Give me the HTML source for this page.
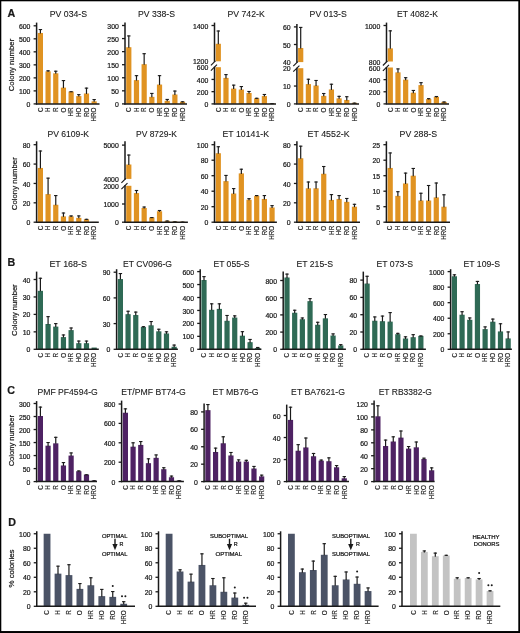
<!DOCTYPE html>
<html><head><meta charset="utf-8"><title>Figure</title>
<style>
html,body{margin:0;padding:0;background:#fff;}
body{width:520px;height:633px;overflow:hidden;position:relative;}
svg{position:absolute;left:0;top:0;display:block;filter:blur(0.3px);}
text{font-family:"Liberation Sans", sans-serif;fill:#1a1a1a;stroke:#1a1a1a;stroke-width:0.22px;}
</style></head>
<body>
<svg width="520" height="633" viewBox="0 0 520 633">
<rect x="0" y="0" width="520" height="633" fill="#ffffff"/>
<rect x="37.80" y="32.96" width="5.20" height="70.94" fill="#e09322"/>
<line x1="40.40" y1="29.05" x2="40.40" y2="33.46" stroke="#1a1a1a" stroke-width="1.2"/>
<line x1="38.70" y1="29.55" x2="42.10" y2="29.55" stroke="#1a1a1a" stroke-width="1.1"/>
<rect x="45.48" y="71.36" width="5.20" height="32.54" fill="#e09322"/>
<line x1="48.08" y1="70.32" x2="48.08" y2="71.86" stroke="#1a1a1a" stroke-width="1.2"/>
<line x1="46.38" y1="70.82" x2="49.78" y2="70.82" stroke="#1a1a1a" stroke-width="1.1"/>
<rect x="53.16" y="73.31" width="5.20" height="30.59" fill="#e09322"/>
<line x1="55.76" y1="70.71" x2="55.76" y2="73.81" stroke="#1a1a1a" stroke-width="1.2"/>
<line x1="54.06" y1="71.21" x2="57.46" y2="71.21" stroke="#1a1a1a" stroke-width="1.1"/>
<rect x="60.84" y="87.63" width="5.20" height="16.27" fill="#e09322"/>
<line x1="63.44" y1="80.08" x2="63.44" y2="88.13" stroke="#1a1a1a" stroke-width="1.2"/>
<line x1="61.74" y1="80.58" x2="65.14" y2="80.58" stroke="#1a1a1a" stroke-width="1.1"/>
<rect x="68.52" y="91.53" width="5.20" height="12.37" fill="#e09322"/>
<line x1="71.12" y1="91.27" x2="71.12" y2="92.03" stroke="#1a1a1a" stroke-width="1.2"/>
<line x1="69.42" y1="91.77" x2="72.82" y2="91.77" stroke="#1a1a1a" stroke-width="1.1"/>
<rect x="76.20" y="96.09" width="5.20" height="7.81" fill="#e09322"/>
<line x1="78.80" y1="94.14" x2="78.80" y2="96.59" stroke="#1a1a1a" stroke-width="1.2"/>
<line x1="77.10" y1="94.64" x2="80.50" y2="94.64" stroke="#1a1a1a" stroke-width="1.1"/>
<rect x="83.88" y="93.49" width="5.20" height="10.41" fill="#e09322"/>
<line x1="86.48" y1="87.63" x2="86.48" y2="93.99" stroke="#1a1a1a" stroke-width="1.2"/>
<line x1="84.78" y1="88.13" x2="88.18" y2="88.13" stroke="#1a1a1a" stroke-width="1.1"/>
<rect x="91.56" y="101.30" width="5.20" height="2.60" fill="#e09322"/>
<line x1="94.16" y1="99.08" x2="94.16" y2="101.80" stroke="#1a1a1a" stroke-width="1.2"/>
<line x1="92.46" y1="99.58" x2="95.86" y2="99.58" stroke="#1a1a1a" stroke-width="1.1"/>
<line x1="36.60" y1="22.60" x2="36.60" y2="104.50" stroke="#1a1a1a" stroke-width="1.5"/>
<line x1="35.90" y1="103.90" x2="99.50" y2="103.90" stroke="#1a1a1a" stroke-width="1.5"/>
<line x1="33.60" y1="103.90" x2="36.60" y2="103.90" stroke="#1a1a1a" stroke-width="1.3"/>
<text x="30.40" y="106.98" font-size="6.9" text-anchor="end" font-weight="normal" >0</text>
<line x1="33.60" y1="90.88" x2="36.60" y2="90.88" stroke="#1a1a1a" stroke-width="1.3"/>
<text x="30.40" y="93.97" font-size="6.9" text-anchor="end" font-weight="normal" >100</text>
<line x1="33.60" y1="77.87" x2="36.60" y2="77.87" stroke="#1a1a1a" stroke-width="1.3"/>
<text x="30.40" y="80.95" font-size="6.9" text-anchor="end" font-weight="normal" >200</text>
<line x1="33.60" y1="64.85" x2="36.60" y2="64.85" stroke="#1a1a1a" stroke-width="1.3"/>
<text x="30.40" y="67.93" font-size="6.9" text-anchor="end" font-weight="normal" >300</text>
<line x1="33.60" y1="51.83" x2="36.60" y2="51.83" stroke="#1a1a1a" stroke-width="1.3"/>
<text x="30.40" y="54.92" font-size="6.9" text-anchor="end" font-weight="normal" >400</text>
<line x1="33.60" y1="38.82" x2="36.60" y2="38.82" stroke="#1a1a1a" stroke-width="1.3"/>
<text x="30.40" y="41.90" font-size="6.9" text-anchor="end" font-weight="normal" >500</text>
<line x1="33.60" y1="25.80" x2="36.60" y2="25.80" stroke="#1a1a1a" stroke-width="1.3"/>
<text x="30.40" y="28.88" font-size="6.9" text-anchor="end" font-weight="normal" >600</text>
<text x="0" y="0" font-size="6.3" text-anchor="end" style="stroke-width:0.16px" transform="translate(42.67,107.50) rotate(-90)">C</text>
<text x="0" y="0" font-size="6.3" text-anchor="end" style="stroke-width:0.16px" transform="translate(50.35,107.50) rotate(-90)">H</text>
<text x="0" y="0" font-size="6.3" text-anchor="end" style="stroke-width:0.16px" transform="translate(58.03,107.50) rotate(-90)">R</text>
<text x="0" y="0" font-size="6.3" text-anchor="end" style="stroke-width:0.16px" transform="translate(65.71,107.50) rotate(-90)">O</text>
<text x="0" y="0" font-size="6.3" text-anchor="end" style="stroke-width:0.16px" transform="translate(73.39,107.50) rotate(-90)">HR</text>
<text x="0" y="0" font-size="6.3" text-anchor="end" style="stroke-width:0.16px" transform="translate(81.07,107.50) rotate(-90)">HO</text>
<text x="0" y="0" font-size="6.3" text-anchor="end" style="stroke-width:0.16px" transform="translate(88.75,107.50) rotate(-90)">RO</text>
<text x="0" y="0" font-size="6.3" text-anchor="end" style="stroke-width:0.16px" transform="translate(96.43,107.50) rotate(-90)">HRO</text>
<text x="49.80" y="17.10" font-size="8.6" text-anchor="start" font-weight="normal" textLength="37.30" lengthAdjust="spacingAndGlyphs"  style="stroke-width:0.1px">PV 034-S</text>
<rect x="126.20" y="47.19" width="5.20" height="56.71" fill="#e09322"/>
<line x1="128.80" y1="35.43" x2="128.80" y2="47.69" stroke="#1a1a1a" stroke-width="1.2"/>
<line x1="127.10" y1="35.93" x2="130.50" y2="35.93" stroke="#1a1a1a" stroke-width="1.1"/>
<rect x="133.88" y="80.12" width="5.20" height="23.78" fill="#e09322"/>
<line x1="136.48" y1="75.15" x2="136.48" y2="80.62" stroke="#1a1a1a" stroke-width="1.2"/>
<line x1="134.78" y1="75.65" x2="138.18" y2="75.65" stroke="#1a1a1a" stroke-width="1.1"/>
<rect x="141.56" y="64.18" width="5.20" height="39.72" fill="#e09322"/>
<line x1="144.16" y1="53.20" x2="144.16" y2="64.68" stroke="#1a1a1a" stroke-width="1.2"/>
<line x1="142.46" y1="53.70" x2="145.86" y2="53.70" stroke="#1a1a1a" stroke-width="1.1"/>
<rect x="149.24" y="96.84" width="5.20" height="7.06" fill="#e09322"/>
<line x1="151.84" y1="92.92" x2="151.84" y2="97.34" stroke="#1a1a1a" stroke-width="1.2"/>
<line x1="150.14" y1="93.42" x2="153.54" y2="93.42" stroke="#1a1a1a" stroke-width="1.1"/>
<rect x="156.92" y="84.56" width="5.20" height="19.34" fill="#e09322"/>
<line x1="159.52" y1="75.15" x2="159.52" y2="85.06" stroke="#1a1a1a" stroke-width="1.2"/>
<line x1="157.82" y1="75.65" x2="161.22" y2="75.65" stroke="#1a1a1a" stroke-width="1.1"/>
<rect x="164.60" y="100.76" width="5.20" height="3.14" fill="#e09322"/>
<line x1="167.20" y1="98.93" x2="167.20" y2="101.26" stroke="#1a1a1a" stroke-width="1.2"/>
<line x1="165.50" y1="99.43" x2="168.90" y2="99.43" stroke="#1a1a1a" stroke-width="1.1"/>
<rect x="172.28" y="94.49" width="5.20" height="9.41" fill="#e09322"/>
<line x1="174.88" y1="90.57" x2="174.88" y2="94.99" stroke="#1a1a1a" stroke-width="1.2"/>
<line x1="173.18" y1="91.07" x2="176.58" y2="91.07" stroke="#1a1a1a" stroke-width="1.1"/>
<rect x="179.96" y="101.81" width="5.20" height="2.09" fill="#e09322"/>
<line x1="182.56" y1="101.29" x2="182.56" y2="102.31" stroke="#1a1a1a" stroke-width="1.2"/>
<line x1="180.86" y1="101.79" x2="184.26" y2="101.79" stroke="#1a1a1a" stroke-width="1.1"/>
<line x1="125.00" y1="22.60" x2="125.00" y2="104.50" stroke="#1a1a1a" stroke-width="1.5"/>
<line x1="124.30" y1="103.90" x2="187.00" y2="103.90" stroke="#1a1a1a" stroke-width="1.5"/>
<line x1="122.00" y1="103.90" x2="125.00" y2="103.90" stroke="#1a1a1a" stroke-width="1.3"/>
<text x="118.80" y="106.98" font-size="6.9" text-anchor="end" font-weight="normal" >0</text>
<line x1="122.00" y1="90.83" x2="125.00" y2="90.83" stroke="#1a1a1a" stroke-width="1.3"/>
<text x="118.80" y="93.92" font-size="6.9" text-anchor="end" font-weight="normal" >50</text>
<line x1="122.00" y1="77.77" x2="125.00" y2="77.77" stroke="#1a1a1a" stroke-width="1.3"/>
<text x="118.80" y="80.85" font-size="6.9" text-anchor="end" font-weight="normal" >100</text>
<line x1="122.00" y1="64.70" x2="125.00" y2="64.70" stroke="#1a1a1a" stroke-width="1.3"/>
<text x="118.80" y="67.78" font-size="6.9" text-anchor="end" font-weight="normal" >150</text>
<line x1="122.00" y1="51.63" x2="125.00" y2="51.63" stroke="#1a1a1a" stroke-width="1.3"/>
<text x="118.80" y="54.72" font-size="6.9" text-anchor="end" font-weight="normal" >200</text>
<line x1="122.00" y1="38.57" x2="125.00" y2="38.57" stroke="#1a1a1a" stroke-width="1.3"/>
<text x="118.80" y="41.65" font-size="6.9" text-anchor="end" font-weight="normal" >250</text>
<line x1="122.00" y1="25.50" x2="125.00" y2="25.50" stroke="#1a1a1a" stroke-width="1.3"/>
<text x="118.80" y="28.58" font-size="6.9" text-anchor="end" font-weight="normal" >300</text>
<text x="0" y="0" font-size="6.3" text-anchor="end" style="stroke-width:0.16px" transform="translate(131.07,107.50) rotate(-90)">C</text>
<text x="0" y="0" font-size="6.3" text-anchor="end" style="stroke-width:0.16px" transform="translate(138.75,107.50) rotate(-90)">H</text>
<text x="0" y="0" font-size="6.3" text-anchor="end" style="stroke-width:0.16px" transform="translate(146.43,107.50) rotate(-90)">R</text>
<text x="0" y="0" font-size="6.3" text-anchor="end" style="stroke-width:0.16px" transform="translate(154.11,107.50) rotate(-90)">O</text>
<text x="0" y="0" font-size="6.3" text-anchor="end" style="stroke-width:0.16px" transform="translate(161.79,107.50) rotate(-90)">HR</text>
<text x="0" y="0" font-size="6.3" text-anchor="end" style="stroke-width:0.16px" transform="translate(169.47,107.50) rotate(-90)">HO</text>
<text x="0" y="0" font-size="6.3" text-anchor="end" style="stroke-width:0.16px" transform="translate(177.15,107.50) rotate(-90)">RO</text>
<text x="0" y="0" font-size="6.3" text-anchor="end" style="stroke-width:0.16px" transform="translate(184.83,107.50) rotate(-90)">HRO</text>
<text x="138.00" y="17.10" font-size="8.6" text-anchor="start" font-weight="normal" textLength="37.00" lengthAdjust="spacingAndGlyphs"  style="stroke-width:0.1px">PV 338-S</text>
<rect x="215.70" y="67.20" width="5.20" height="36.70" fill="#e09322"/>
<rect x="215.70" y="43.76" width="5.20" height="17.54" fill="#e09322"/>
<line x1="218.30" y1="30.51" x2="218.30" y2="44.26" stroke="#1a1a1a" stroke-width="1.2"/>
<line x1="216.60" y1="31.01" x2="220.00" y2="31.01" stroke="#1a1a1a" stroke-width="1.1"/>
<rect x="223.38" y="77.90" width="5.20" height="26.00" fill="#e09322"/>
<line x1="225.98" y1="74.11" x2="225.98" y2="78.40" stroke="#1a1a1a" stroke-width="1.2"/>
<line x1="224.28" y1="74.61" x2="227.68" y2="74.61" stroke="#1a1a1a" stroke-width="1.1"/>
<rect x="231.06" y="88.61" width="5.20" height="15.29" fill="#e09322"/>
<line x1="233.66" y1="84.63" x2="233.66" y2="89.11" stroke="#1a1a1a" stroke-width="1.2"/>
<line x1="231.96" y1="85.13" x2="235.36" y2="85.13" stroke="#1a1a1a" stroke-width="1.1"/>
<rect x="238.74" y="89.53" width="5.20" height="14.37" fill="#e09322"/>
<line x1="241.34" y1="86.04" x2="241.34" y2="90.03" stroke="#1a1a1a" stroke-width="1.2"/>
<line x1="239.64" y1="86.54" x2="243.04" y2="86.54" stroke="#1a1a1a" stroke-width="1.1"/>
<rect x="246.42" y="92.95" width="5.20" height="10.95" fill="#e09322"/>
<line x1="249.02" y1="90.99" x2="249.02" y2="93.45" stroke="#1a1a1a" stroke-width="1.2"/>
<line x1="247.32" y1="91.49" x2="250.72" y2="91.49" stroke="#1a1a1a" stroke-width="1.1"/>
<rect x="254.10" y="98.27" width="5.20" height="5.63" fill="#e09322"/>
<line x1="256.70" y1="97.78" x2="256.70" y2="98.77" stroke="#1a1a1a" stroke-width="1.2"/>
<line x1="255.00" y1="98.28" x2="258.40" y2="98.28" stroke="#1a1a1a" stroke-width="1.1"/>
<rect x="261.78" y="96.07" width="5.20" height="7.83" fill="#e09322"/>
<line x1="264.38" y1="93.99" x2="264.38" y2="96.57" stroke="#1a1a1a" stroke-width="1.2"/>
<line x1="262.68" y1="94.49" x2="266.08" y2="94.49" stroke="#1a1a1a" stroke-width="1.1"/>
<rect x="269.46" y="103.29" width="5.20" height="0.61" fill="#e09322"/>
<line x1="272.06" y1="103.17" x2="272.06" y2="103.79" stroke="#1a1a1a" stroke-width="1.2"/>
<line x1="270.36" y1="103.67" x2="273.76" y2="103.67" stroke="#1a1a1a" stroke-width="1.1"/>
<line x1="214.50" y1="22.60" x2="214.50" y2="61.80" stroke="#1a1a1a" stroke-width="1.5"/>
<line x1="214.50" y1="66.70" x2="214.50" y2="103.90" stroke="#1a1a1a" stroke-width="1.5"/>
<line x1="210.90" y1="65.30" x2="215.40" y2="60.80" stroke="#1a1a1a" stroke-width="1.15"/>
<line x1="210.90" y1="70.60" x2="217.00" y2="64.60" stroke="#1a1a1a" stroke-width="1.15"/>
<line x1="213.80" y1="103.90" x2="276.00" y2="103.90" stroke="#1a1a1a" stroke-width="1.5"/>
<line x1="211.50" y1="103.90" x2="214.50" y2="103.90" stroke="#1a1a1a" stroke-width="1.3"/>
<text x="208.30" y="106.98" font-size="6.9" text-anchor="end" font-weight="normal" >0</text>
<line x1="211.50" y1="91.67" x2="214.50" y2="91.67" stroke="#1a1a1a" stroke-width="1.3"/>
<text x="208.30" y="94.75" font-size="6.9" text-anchor="end" font-weight="normal" >200</text>
<line x1="211.50" y1="79.43" x2="214.50" y2="79.43" stroke="#1a1a1a" stroke-width="1.3"/>
<text x="208.30" y="82.52" font-size="6.9" text-anchor="end" font-weight="normal" >400</text>
<text x="208.30" y="70.28" font-size="6.9" text-anchor="end" font-weight="normal" >600</text>
<text x="208.30" y="64.38" font-size="6.9" text-anchor="end" font-weight="normal" >1200</text>
<line x1="211.50" y1="25.50" x2="214.50" y2="25.50" stroke="#1a1a1a" stroke-width="1.3"/>
<text x="208.30" y="28.58" font-size="6.9" text-anchor="end" font-weight="normal" >1400</text>
<text x="0" y="0" font-size="6.3" text-anchor="end" style="stroke-width:0.16px" transform="translate(220.57,107.50) rotate(-90)">C</text>
<text x="0" y="0" font-size="6.3" text-anchor="end" style="stroke-width:0.16px" transform="translate(228.25,107.50) rotate(-90)">H</text>
<text x="0" y="0" font-size="6.3" text-anchor="end" style="stroke-width:0.16px" transform="translate(235.93,107.50) rotate(-90)">R</text>
<text x="0" y="0" font-size="6.3" text-anchor="end" style="stroke-width:0.16px" transform="translate(243.61,107.50) rotate(-90)">O</text>
<text x="0" y="0" font-size="6.3" text-anchor="end" style="stroke-width:0.16px" transform="translate(251.29,107.50) rotate(-90)">HR</text>
<text x="0" y="0" font-size="6.3" text-anchor="end" style="stroke-width:0.16px" transform="translate(258.97,107.50) rotate(-90)">HO</text>
<text x="0" y="0" font-size="6.3" text-anchor="end" style="stroke-width:0.16px" transform="translate(266.65,107.50) rotate(-90)">RO</text>
<text x="0" y="0" font-size="6.3" text-anchor="end" style="stroke-width:0.16px" transform="translate(274.33,107.50) rotate(-90)">HRO</text>
<text x="227.50" y="17.10" font-size="8.6" text-anchor="start" font-weight="normal" textLength="37.20" lengthAdjust="spacingAndGlyphs"  style="stroke-width:0.1px">PV 742-K</text>
<rect x="298.10" y="68.20" width="5.20" height="35.70" fill="#e09322"/>
<rect x="298.10" y="48.02" width="5.20" height="14.08" fill="#e09322"/>
<line x1="300.70" y1="26.90" x2="300.70" y2="48.52" stroke="#1a1a1a" stroke-width="1.2"/>
<line x1="299.00" y1="27.40" x2="302.40" y2="27.40" stroke="#1a1a1a" stroke-width="1.1"/>
<rect x="305.78" y="84.09" width="5.20" height="19.81" fill="#e09322"/>
<line x1="308.38" y1="78.73" x2="308.38" y2="84.59" stroke="#1a1a1a" stroke-width="1.2"/>
<line x1="306.68" y1="79.23" x2="310.08" y2="79.23" stroke="#1a1a1a" stroke-width="1.1"/>
<rect x="313.46" y="85.51" width="5.20" height="18.39" fill="#e09322"/>
<line x1="316.06" y1="79.98" x2="316.06" y2="86.01" stroke="#1a1a1a" stroke-width="1.2"/>
<line x1="314.36" y1="80.48" x2="317.76" y2="80.48" stroke="#1a1a1a" stroke-width="1.1"/>
<rect x="321.14" y="95.87" width="5.20" height="8.03" fill="#e09322"/>
<line x1="323.74" y1="93.01" x2="323.74" y2="96.37" stroke="#1a1a1a" stroke-width="1.2"/>
<line x1="322.04" y1="93.51" x2="325.44" y2="93.51" stroke="#1a1a1a" stroke-width="1.1"/>
<rect x="328.82" y="89.44" width="5.20" height="14.46" fill="#e09322"/>
<line x1="331.42" y1="83.73" x2="331.42" y2="89.94" stroke="#1a1a1a" stroke-width="1.2"/>
<line x1="329.72" y1="84.23" x2="333.12" y2="84.23" stroke="#1a1a1a" stroke-width="1.1"/>
<rect x="336.50" y="98.37" width="5.20" height="5.53" fill="#e09322"/>
<line x1="339.10" y1="95.87" x2="339.10" y2="98.87" stroke="#1a1a1a" stroke-width="1.2"/>
<line x1="337.40" y1="96.37" x2="340.80" y2="96.37" stroke="#1a1a1a" stroke-width="1.1"/>
<rect x="344.18" y="99.97" width="5.20" height="3.93" fill="#e09322"/>
<line x1="346.78" y1="96.22" x2="346.78" y2="100.47" stroke="#1a1a1a" stroke-width="1.2"/>
<line x1="345.08" y1="96.72" x2="348.48" y2="96.72" stroke="#1a1a1a" stroke-width="1.1"/>
<rect x="351.86" y="102.83" width="5.20" height="1.07" fill="#e09322"/>
<line x1="354.46" y1="102.65" x2="354.46" y2="103.33" stroke="#1a1a1a" stroke-width="1.2"/>
<line x1="352.76" y1="103.15" x2="356.16" y2="103.15" stroke="#1a1a1a" stroke-width="1.1"/>
<line x1="296.90" y1="24.00" x2="296.90" y2="62.60" stroke="#1a1a1a" stroke-width="1.5"/>
<line x1="296.90" y1="67.70" x2="296.90" y2="103.90" stroke="#1a1a1a" stroke-width="1.5"/>
<line x1="293.30" y1="66.10" x2="297.80" y2="61.60" stroke="#1a1a1a" stroke-width="1.15"/>
<line x1="293.30" y1="71.60" x2="299.40" y2="65.60" stroke="#1a1a1a" stroke-width="1.15"/>
<line x1="296.20" y1="103.90" x2="359.00" y2="103.90" stroke="#1a1a1a" stroke-width="1.5"/>
<line x1="293.90" y1="103.90" x2="296.90" y2="103.90" stroke="#1a1a1a" stroke-width="1.3"/>
<text x="290.70" y="106.98" font-size="6.9" text-anchor="end" font-weight="normal" >0</text>
<line x1="293.90" y1="86.05" x2="296.90" y2="86.05" stroke="#1a1a1a" stroke-width="1.3"/>
<text x="290.70" y="89.13" font-size="6.9" text-anchor="end" font-weight="normal" >10</text>
<text x="290.70" y="71.28" font-size="6.9" text-anchor="end" font-weight="normal" >20</text>
<text x="290.70" y="65.18" font-size="6.9" text-anchor="end" font-weight="normal" >40</text>
<line x1="293.90" y1="44.50" x2="296.90" y2="44.50" stroke="#1a1a1a" stroke-width="1.3"/>
<text x="290.70" y="47.58" font-size="6.9" text-anchor="end" font-weight="normal" >50</text>
<line x1="293.90" y1="26.90" x2="296.90" y2="26.90" stroke="#1a1a1a" stroke-width="1.3"/>
<text x="290.70" y="29.98" font-size="6.9" text-anchor="end" font-weight="normal" >60</text>
<text x="0" y="0" font-size="6.3" text-anchor="end" style="stroke-width:0.16px" transform="translate(302.97,107.50) rotate(-90)">C</text>
<text x="0" y="0" font-size="6.3" text-anchor="end" style="stroke-width:0.16px" transform="translate(310.65,107.50) rotate(-90)">H</text>
<text x="0" y="0" font-size="6.3" text-anchor="end" style="stroke-width:0.16px" transform="translate(318.33,107.50) rotate(-90)">R</text>
<text x="0" y="0" font-size="6.3" text-anchor="end" style="stroke-width:0.16px" transform="translate(326.01,107.50) rotate(-90)">O</text>
<text x="0" y="0" font-size="6.3" text-anchor="end" style="stroke-width:0.16px" transform="translate(333.69,107.50) rotate(-90)">HR</text>
<text x="0" y="0" font-size="6.3" text-anchor="end" style="stroke-width:0.16px" transform="translate(341.37,107.50) rotate(-90)">HO</text>
<text x="0" y="0" font-size="6.3" text-anchor="end" style="stroke-width:0.16px" transform="translate(349.05,107.50) rotate(-90)">RO</text>
<text x="0" y="0" font-size="6.3" text-anchor="end" style="stroke-width:0.16px" transform="translate(356.73,107.50) rotate(-90)">HRO</text>
<text x="309.60" y="17.10" font-size="8.6" text-anchor="start" font-weight="normal" textLength="37.20" lengthAdjust="spacingAndGlyphs"  style="stroke-width:0.1px">PV 013-S</text>
<rect x="387.70" y="67.50" width="5.20" height="36.40" fill="#e09322"/>
<rect x="387.70" y="48.36" width="5.20" height="13.14" fill="#e09322"/>
<line x1="390.30" y1="30.36" x2="390.30" y2="48.86" stroke="#1a1a1a" stroke-width="1.2"/>
<line x1="388.60" y1="30.86" x2="392.00" y2="30.86" stroke="#1a1a1a" stroke-width="1.1"/>
<rect x="395.38" y="72.35" width="5.20" height="31.55" fill="#e09322"/>
<line x1="397.98" y1="68.41" x2="397.98" y2="72.85" stroke="#1a1a1a" stroke-width="1.2"/>
<line x1="396.28" y1="68.91" x2="399.68" y2="68.91" stroke="#1a1a1a" stroke-width="1.1"/>
<rect x="403.06" y="79.63" width="5.20" height="24.27" fill="#e09322"/>
<line x1="405.66" y1="77.21" x2="405.66" y2="80.13" stroke="#1a1a1a" stroke-width="1.2"/>
<line x1="403.96" y1="77.71" x2="407.36" y2="77.71" stroke="#1a1a1a" stroke-width="1.1"/>
<rect x="410.74" y="92.68" width="5.20" height="11.22" fill="#e09322"/>
<line x1="413.34" y1="89.95" x2="413.34" y2="93.18" stroke="#1a1a1a" stroke-width="1.2"/>
<line x1="411.64" y1="90.45" x2="415.04" y2="90.45" stroke="#1a1a1a" stroke-width="1.1"/>
<rect x="418.42" y="85.09" width="5.20" height="18.81" fill="#e09322"/>
<line x1="421.02" y1="82.18" x2="421.02" y2="85.59" stroke="#1a1a1a" stroke-width="1.2"/>
<line x1="419.32" y1="82.68" x2="422.72" y2="82.68" stroke="#1a1a1a" stroke-width="1.1"/>
<rect x="426.10" y="99.05" width="5.20" height="4.85" fill="#e09322"/>
<line x1="428.70" y1="98.14" x2="428.70" y2="99.55" stroke="#1a1a1a" stroke-width="1.2"/>
<line x1="427.00" y1="98.64" x2="430.40" y2="98.64" stroke="#1a1a1a" stroke-width="1.1"/>
<rect x="433.78" y="96.92" width="5.20" height="6.98" fill="#e09322"/>
<line x1="436.38" y1="96.01" x2="436.38" y2="97.42" stroke="#1a1a1a" stroke-width="1.2"/>
<line x1="434.68" y1="96.51" x2="438.08" y2="96.51" stroke="#1a1a1a" stroke-width="1.1"/>
<rect x="441.46" y="101.90" width="5.20" height="2.00" fill="#e09322"/>
<line x1="444.06" y1="101.47" x2="444.06" y2="102.40" stroke="#1a1a1a" stroke-width="1.2"/>
<line x1="442.36" y1="101.97" x2="445.76" y2="101.97" stroke="#1a1a1a" stroke-width="1.1"/>
<line x1="386.50" y1="22.60" x2="386.50" y2="62.00" stroke="#1a1a1a" stroke-width="1.5"/>
<line x1="386.50" y1="67.00" x2="386.50" y2="103.90" stroke="#1a1a1a" stroke-width="1.5"/>
<line x1="382.90" y1="65.50" x2="387.40" y2="61.00" stroke="#1a1a1a" stroke-width="1.15"/>
<line x1="382.90" y1="70.90" x2="389.00" y2="64.90" stroke="#1a1a1a" stroke-width="1.15"/>
<line x1="385.80" y1="103.90" x2="449.00" y2="103.90" stroke="#1a1a1a" stroke-width="1.5"/>
<line x1="383.50" y1="103.90" x2="386.50" y2="103.90" stroke="#1a1a1a" stroke-width="1.3"/>
<text x="380.30" y="106.98" font-size="6.9" text-anchor="end" font-weight="normal" >0</text>
<line x1="383.50" y1="91.77" x2="386.50" y2="91.77" stroke="#1a1a1a" stroke-width="1.3"/>
<text x="380.30" y="94.85" font-size="6.9" text-anchor="end" font-weight="normal" >200</text>
<line x1="383.50" y1="79.63" x2="386.50" y2="79.63" stroke="#1a1a1a" stroke-width="1.3"/>
<text x="380.30" y="82.72" font-size="6.9" text-anchor="end" font-weight="normal" >400</text>
<text x="380.30" y="70.58" font-size="6.9" text-anchor="end" font-weight="normal" >600</text>
<text x="380.30" y="64.58" font-size="6.9" text-anchor="end" font-weight="normal" >800</text>
<line x1="383.50" y1="25.50" x2="386.50" y2="25.50" stroke="#1a1a1a" stroke-width="1.3"/>
<text x="380.30" y="28.58" font-size="6.9" text-anchor="end" font-weight="normal" >1000</text>
<text x="0" y="0" font-size="6.3" text-anchor="end" style="stroke-width:0.16px" transform="translate(392.57,107.50) rotate(-90)">C</text>
<text x="0" y="0" font-size="6.3" text-anchor="end" style="stroke-width:0.16px" transform="translate(400.25,107.50) rotate(-90)">H</text>
<text x="0" y="0" font-size="6.3" text-anchor="end" style="stroke-width:0.16px" transform="translate(407.93,107.50) rotate(-90)">R</text>
<text x="0" y="0" font-size="6.3" text-anchor="end" style="stroke-width:0.16px" transform="translate(415.61,107.50) rotate(-90)">O</text>
<text x="0" y="0" font-size="6.3" text-anchor="end" style="stroke-width:0.16px" transform="translate(423.29,107.50) rotate(-90)">HR</text>
<text x="0" y="0" font-size="6.3" text-anchor="end" style="stroke-width:0.16px" transform="translate(430.97,107.50) rotate(-90)">HO</text>
<text x="0" y="0" font-size="6.3" text-anchor="end" style="stroke-width:0.16px" transform="translate(438.65,107.50) rotate(-90)">RO</text>
<text x="0" y="0" font-size="6.3" text-anchor="end" style="stroke-width:0.16px" transform="translate(446.33,107.50) rotate(-90)">HRO</text>
<text x="397.00" y="17.10" font-size="8.6" text-anchor="start" font-weight="normal" textLength="41.00" lengthAdjust="spacingAndGlyphs"  style="stroke-width:0.1px">ET 4082-K</text>
<rect x="37.80" y="167.95" width="5.20" height="54.25" fill="#e09322"/>
<line x1="40.40" y1="150.51" x2="40.40" y2="168.45" stroke="#1a1a1a" stroke-width="1.2"/>
<line x1="38.70" y1="151.01" x2="42.10" y2="151.01" stroke="#1a1a1a" stroke-width="1.1"/>
<rect x="45.48" y="194.11" width="5.20" height="28.09" fill="#e09322"/>
<line x1="48.08" y1="177.64" x2="48.08" y2="194.61" stroke="#1a1a1a" stroke-width="1.2"/>
<line x1="46.38" y1="178.14" x2="49.78" y2="178.14" stroke="#1a1a1a" stroke-width="1.1"/>
<rect x="53.16" y="204.76" width="5.20" height="17.44" fill="#e09322"/>
<line x1="55.76" y1="195.07" x2="55.76" y2="205.26" stroke="#1a1a1a" stroke-width="1.2"/>
<line x1="54.06" y1="195.57" x2="57.46" y2="195.57" stroke="#1a1a1a" stroke-width="1.1"/>
<rect x="60.84" y="216.39" width="5.20" height="5.81" fill="#e09322"/>
<line x1="63.44" y1="212.51" x2="63.44" y2="216.89" stroke="#1a1a1a" stroke-width="1.2"/>
<line x1="61.74" y1="213.01" x2="65.14" y2="213.01" stroke="#1a1a1a" stroke-width="1.1"/>
<rect x="68.52" y="216.39" width="5.20" height="5.81" fill="#e09322"/>
<line x1="71.12" y1="215.42" x2="71.12" y2="216.89" stroke="#1a1a1a" stroke-width="1.2"/>
<line x1="69.42" y1="215.92" x2="72.82" y2="215.92" stroke="#1a1a1a" stroke-width="1.1"/>
<rect x="76.20" y="217.84" width="5.20" height="4.36" fill="#e09322"/>
<line x1="78.80" y1="215.42" x2="78.80" y2="218.34" stroke="#1a1a1a" stroke-width="1.2"/>
<line x1="77.10" y1="215.92" x2="80.50" y2="215.92" stroke="#1a1a1a" stroke-width="1.1"/>
<rect x="83.88" y="219.29" width="5.20" height="2.91" fill="#e09322"/>
<line x1="86.48" y1="218.81" x2="86.48" y2="219.79" stroke="#1a1a1a" stroke-width="1.2"/>
<line x1="84.78" y1="219.31" x2="88.18" y2="219.31" stroke="#1a1a1a" stroke-width="1.1"/>
<rect x="91.56" y="221.91" width="5.20" height="0.29" fill="#e09322"/>
<line x1="36.60" y1="141.30" x2="36.60" y2="222.80" stroke="#1a1a1a" stroke-width="1.5"/>
<line x1="35.90" y1="222.20" x2="98.80" y2="222.20" stroke="#1a1a1a" stroke-width="1.5"/>
<line x1="33.60" y1="222.20" x2="36.60" y2="222.20" stroke="#1a1a1a" stroke-width="1.3"/>
<text x="30.40" y="225.28" font-size="6.9" text-anchor="end" font-weight="normal" >0</text>
<line x1="33.60" y1="202.82" x2="36.60" y2="202.82" stroke="#1a1a1a" stroke-width="1.3"/>
<text x="30.40" y="205.91" font-size="6.9" text-anchor="end" font-weight="normal" >20</text>
<line x1="33.60" y1="183.45" x2="36.60" y2="183.45" stroke="#1a1a1a" stroke-width="1.3"/>
<text x="30.40" y="186.53" font-size="6.9" text-anchor="end" font-weight="normal" >40</text>
<line x1="33.60" y1="164.07" x2="36.60" y2="164.07" stroke="#1a1a1a" stroke-width="1.3"/>
<text x="30.40" y="167.16" font-size="6.9" text-anchor="end" font-weight="normal" >60</text>
<line x1="33.60" y1="144.70" x2="36.60" y2="144.70" stroke="#1a1a1a" stroke-width="1.3"/>
<text x="30.40" y="147.78" font-size="6.9" text-anchor="end" font-weight="normal" >80</text>
<text x="0" y="0" font-size="6.3" text-anchor="end" style="stroke-width:0.16px" transform="translate(42.67,225.80) rotate(-90)">C</text>
<text x="0" y="0" font-size="6.3" text-anchor="end" style="stroke-width:0.16px" transform="translate(50.35,225.80) rotate(-90)">H</text>
<text x="0" y="0" font-size="6.3" text-anchor="end" style="stroke-width:0.16px" transform="translate(58.03,225.80) rotate(-90)">R</text>
<text x="0" y="0" font-size="6.3" text-anchor="end" style="stroke-width:0.16px" transform="translate(65.71,225.80) rotate(-90)">O</text>
<text x="0" y="0" font-size="6.3" text-anchor="end" style="stroke-width:0.16px" transform="translate(73.39,225.80) rotate(-90)">HR</text>
<text x="0" y="0" font-size="6.3" text-anchor="end" style="stroke-width:0.16px" transform="translate(81.07,225.80) rotate(-90)">HO</text>
<text x="0" y="0" font-size="6.3" text-anchor="end" style="stroke-width:0.16px" transform="translate(88.75,225.80) rotate(-90)">RO</text>
<text x="0" y="0" font-size="6.3" text-anchor="end" style="stroke-width:0.16px" transform="translate(96.43,225.80) rotate(-90)">HRO</text>
<text x="47.40" y="136.80" font-size="8.6" text-anchor="start" font-weight="normal" textLength="41.60" lengthAdjust="spacingAndGlyphs"  style="stroke-width:0.1px">PV 6109-K</text>
<rect x="126.20" y="185.80" width="5.20" height="36.40" fill="#e09322"/>
<rect x="126.20" y="164.50" width="5.20" height="14.40" fill="#e09322"/>
<line x1="128.80" y1="154.56" x2="128.80" y2="165.00" stroke="#1a1a1a" stroke-width="1.2"/>
<line x1="127.10" y1="155.06" x2="130.50" y2="155.06" stroke="#1a1a1a" stroke-width="1.1"/>
<rect x="133.88" y="193.08" width="5.20" height="29.12" fill="#e09322"/>
<line x1="136.48" y1="189.99" x2="136.48" y2="193.58" stroke="#1a1a1a" stroke-width="1.2"/>
<line x1="134.78" y1="190.49" x2="138.18" y2="190.49" stroke="#1a1a1a" stroke-width="1.1"/>
<rect x="141.56" y="208.00" width="5.20" height="14.20" fill="#e09322"/>
<line x1="144.16" y1="206.55" x2="144.16" y2="208.50" stroke="#1a1a1a" stroke-width="1.2"/>
<line x1="142.46" y1="207.05" x2="145.86" y2="207.05" stroke="#1a1a1a" stroke-width="1.1"/>
<rect x="149.24" y="217.47" width="5.20" height="4.73" fill="#e09322"/>
<line x1="151.84" y1="217.10" x2="151.84" y2="217.97" stroke="#1a1a1a" stroke-width="1.2"/>
<line x1="150.14" y1="217.60" x2="153.54" y2="217.60" stroke="#1a1a1a" stroke-width="1.1"/>
<rect x="156.92" y="211.28" width="5.20" height="10.92" fill="#e09322"/>
<line x1="159.52" y1="210.01" x2="159.52" y2="211.78" stroke="#1a1a1a" stroke-width="1.2"/>
<line x1="157.82" y1="210.51" x2="161.22" y2="210.51" stroke="#1a1a1a" stroke-width="1.1"/>
<rect x="164.60" y="220.74" width="5.20" height="1.46" fill="#e09322"/>
<line x1="167.20" y1="220.56" x2="167.20" y2="221.24" stroke="#1a1a1a" stroke-width="1.2"/>
<line x1="165.50" y1="221.06" x2="168.90" y2="221.06" stroke="#1a1a1a" stroke-width="1.1"/>
<rect x="172.28" y="221.47" width="5.20" height="0.73" fill="#e09322"/>
<line x1="174.88" y1="221.38" x2="174.88" y2="221.97" stroke="#1a1a1a" stroke-width="1.2"/>
<line x1="173.18" y1="221.88" x2="176.58" y2="221.88" stroke="#1a1a1a" stroke-width="1.1"/>
<rect x="179.96" y="221.74" width="5.20" height="0.46" fill="#e09322"/>
<line x1="182.56" y1="221.65" x2="182.56" y2="222.24" stroke="#1a1a1a" stroke-width="1.2"/>
<line x1="180.86" y1="222.15" x2="184.26" y2="222.15" stroke="#1a1a1a" stroke-width="1.1"/>
<line x1="125.00" y1="141.30" x2="125.00" y2="179.40" stroke="#1a1a1a" stroke-width="1.5"/>
<line x1="125.00" y1="185.30" x2="125.00" y2="222.20" stroke="#1a1a1a" stroke-width="1.5"/>
<line x1="121.40" y1="182.90" x2="125.90" y2="178.40" stroke="#1a1a1a" stroke-width="1.15"/>
<line x1="121.40" y1="189.20" x2="127.50" y2="183.20" stroke="#1a1a1a" stroke-width="1.15"/>
<line x1="124.30" y1="222.20" x2="187.90" y2="222.20" stroke="#1a1a1a" stroke-width="1.5"/>
<line x1="122.00" y1="222.20" x2="125.00" y2="222.20" stroke="#1a1a1a" stroke-width="1.3"/>
<text x="118.80" y="225.28" font-size="6.9" text-anchor="end" font-weight="normal" >0</text>
<line x1="122.00" y1="204.00" x2="125.00" y2="204.00" stroke="#1a1a1a" stroke-width="1.3"/>
<text x="118.80" y="207.08" font-size="6.9" text-anchor="end" font-weight="normal" >1000</text>
<text x="118.80" y="188.88" font-size="6.9" text-anchor="end" font-weight="normal" >2000</text>
<text x="118.80" y="181.98" font-size="6.9" text-anchor="end" font-weight="normal" >4000</text>
<line x1="122.00" y1="145.10" x2="125.00" y2="145.10" stroke="#1a1a1a" stroke-width="1.3"/>
<text x="118.80" y="148.18" font-size="6.9" text-anchor="end" font-weight="normal" >5000</text>
<text x="0" y="0" font-size="6.3" text-anchor="end" style="stroke-width:0.16px" transform="translate(131.07,225.80) rotate(-90)">C</text>
<text x="0" y="0" font-size="6.3" text-anchor="end" style="stroke-width:0.16px" transform="translate(138.75,225.80) rotate(-90)">H</text>
<text x="0" y="0" font-size="6.3" text-anchor="end" style="stroke-width:0.16px" transform="translate(146.43,225.80) rotate(-90)">R</text>
<text x="0" y="0" font-size="6.3" text-anchor="end" style="stroke-width:0.16px" transform="translate(154.11,225.80) rotate(-90)">O</text>
<text x="0" y="0" font-size="6.3" text-anchor="end" style="stroke-width:0.16px" transform="translate(161.79,225.80) rotate(-90)">HR</text>
<text x="0" y="0" font-size="6.3" text-anchor="end" style="stroke-width:0.16px" transform="translate(169.47,225.80) rotate(-90)">HO</text>
<text x="0" y="0" font-size="6.3" text-anchor="end" style="stroke-width:0.16px" transform="translate(177.15,225.80) rotate(-90)">RO</text>
<text x="0" y="0" font-size="6.3" text-anchor="end" style="stroke-width:0.16px" transform="translate(184.83,225.80) rotate(-90)">HRO</text>
<text x="136.00" y="136.80" font-size="8.6" text-anchor="start" font-weight="normal" textLength="41.00" lengthAdjust="spacingAndGlyphs"  style="stroke-width:0.1px">PV 8729-K</text>
<rect x="215.70" y="153.22" width="5.20" height="68.97" fill="#e09322"/>
<line x1="218.30" y1="146.25" x2="218.30" y2="153.72" stroke="#1a1a1a" stroke-width="1.2"/>
<line x1="216.60" y1="146.75" x2="220.00" y2="146.75" stroke="#1a1a1a" stroke-width="1.1"/>
<rect x="223.38" y="181.12" width="5.20" height="41.07" fill="#e09322"/>
<line x1="225.98" y1="174.92" x2="225.98" y2="181.62" stroke="#1a1a1a" stroke-width="1.2"/>
<line x1="224.28" y1="175.42" x2="227.68" y2="175.42" stroke="#1a1a1a" stroke-width="1.1"/>
<rect x="231.06" y="193.52" width="5.20" height="28.68" fill="#e09322"/>
<line x1="233.66" y1="188.10" x2="233.66" y2="194.02" stroke="#1a1a1a" stroke-width="1.2"/>
<line x1="231.96" y1="188.60" x2="235.36" y2="188.60" stroke="#1a1a1a" stroke-width="1.1"/>
<rect x="238.74" y="173.38" width="5.20" height="48.82" fill="#e09322"/>
<line x1="241.34" y1="168.72" x2="241.34" y2="173.88" stroke="#1a1a1a" stroke-width="1.2"/>
<line x1="239.64" y1="169.22" x2="243.04" y2="169.22" stroke="#1a1a1a" stroke-width="1.1"/>
<rect x="246.42" y="199.72" width="5.20" height="22.47" fill="#e09322"/>
<line x1="249.02" y1="198.17" x2="249.02" y2="200.22" stroke="#1a1a1a" stroke-width="1.2"/>
<line x1="247.32" y1="198.67" x2="250.72" y2="198.67" stroke="#1a1a1a" stroke-width="1.1"/>
<rect x="254.10" y="195.85" width="5.20" height="26.35" fill="#e09322"/>
<line x1="256.70" y1="195.07" x2="256.70" y2="196.35" stroke="#1a1a1a" stroke-width="1.2"/>
<line x1="255.00" y1="195.57" x2="258.40" y2="195.57" stroke="#1a1a1a" stroke-width="1.1"/>
<rect x="261.78" y="198.95" width="5.20" height="23.25" fill="#e09322"/>
<line x1="264.38" y1="195.07" x2="264.38" y2="199.45" stroke="#1a1a1a" stroke-width="1.2"/>
<line x1="262.68" y1="195.57" x2="266.08" y2="195.57" stroke="#1a1a1a" stroke-width="1.1"/>
<rect x="269.46" y="207.47" width="5.20" height="14.72" fill="#e09322"/>
<line x1="272.06" y1="205.15" x2="272.06" y2="207.97" stroke="#1a1a1a" stroke-width="1.2"/>
<line x1="270.36" y1="205.65" x2="273.76" y2="205.65" stroke="#1a1a1a" stroke-width="1.1"/>
<line x1="214.50" y1="141.30" x2="214.50" y2="222.80" stroke="#1a1a1a" stroke-width="1.5"/>
<line x1="213.80" y1="222.20" x2="276.90" y2="222.20" stroke="#1a1a1a" stroke-width="1.5"/>
<line x1="211.50" y1="222.20" x2="214.50" y2="222.20" stroke="#1a1a1a" stroke-width="1.3"/>
<text x="208.30" y="225.28" font-size="6.9" text-anchor="end" font-weight="normal" >0</text>
<line x1="211.50" y1="206.70" x2="214.50" y2="206.70" stroke="#1a1a1a" stroke-width="1.3"/>
<text x="208.30" y="209.78" font-size="6.9" text-anchor="end" font-weight="normal" >20</text>
<line x1="211.50" y1="191.20" x2="214.50" y2="191.20" stroke="#1a1a1a" stroke-width="1.3"/>
<text x="208.30" y="194.28" font-size="6.9" text-anchor="end" font-weight="normal" >40</text>
<line x1="211.50" y1="175.70" x2="214.50" y2="175.70" stroke="#1a1a1a" stroke-width="1.3"/>
<text x="208.30" y="178.78" font-size="6.9" text-anchor="end" font-weight="normal" >60</text>
<line x1="211.50" y1="160.20" x2="214.50" y2="160.20" stroke="#1a1a1a" stroke-width="1.3"/>
<text x="208.30" y="163.28" font-size="6.9" text-anchor="end" font-weight="normal" >80</text>
<line x1="211.50" y1="144.70" x2="214.50" y2="144.70" stroke="#1a1a1a" stroke-width="1.3"/>
<text x="208.30" y="147.78" font-size="6.9" text-anchor="end" font-weight="normal" >100</text>
<text x="0" y="0" font-size="6.3" text-anchor="end" style="stroke-width:0.16px" transform="translate(220.57,225.80) rotate(-90)">C</text>
<text x="0" y="0" font-size="6.3" text-anchor="end" style="stroke-width:0.16px" transform="translate(228.25,225.80) rotate(-90)">H</text>
<text x="0" y="0" font-size="6.3" text-anchor="end" style="stroke-width:0.16px" transform="translate(235.93,225.80) rotate(-90)">R</text>
<text x="0" y="0" font-size="6.3" text-anchor="end" style="stroke-width:0.16px" transform="translate(243.61,225.80) rotate(-90)">O</text>
<text x="0" y="0" font-size="6.3" text-anchor="end" style="stroke-width:0.16px" transform="translate(251.29,225.80) rotate(-90)">HR</text>
<text x="0" y="0" font-size="6.3" text-anchor="end" style="stroke-width:0.16px" transform="translate(258.97,225.80) rotate(-90)">HO</text>
<text x="0" y="0" font-size="6.3" text-anchor="end" style="stroke-width:0.16px" transform="translate(266.65,225.80) rotate(-90)">RO</text>
<text x="0" y="0" font-size="6.3" text-anchor="end" style="stroke-width:0.16px" transform="translate(274.33,225.80) rotate(-90)">HRO</text>
<text x="222.50" y="136.80" font-size="8.6" text-anchor="start" font-weight="normal" textLength="46.50" lengthAdjust="spacingAndGlyphs"  style="stroke-width:0.1px">ET 10141-K</text>
<rect x="298.10" y="158.26" width="5.20" height="63.94" fill="#e09322"/>
<line x1="300.70" y1="145.67" x2="300.70" y2="158.76" stroke="#1a1a1a" stroke-width="1.2"/>
<line x1="299.00" y1="146.17" x2="302.40" y2="146.17" stroke="#1a1a1a" stroke-width="1.1"/>
<rect x="305.78" y="188.29" width="5.20" height="33.91" fill="#e09322"/>
<line x1="308.38" y1="181.51" x2="308.38" y2="188.79" stroke="#1a1a1a" stroke-width="1.2"/>
<line x1="306.68" y1="182.01" x2="310.08" y2="182.01" stroke="#1a1a1a" stroke-width="1.1"/>
<rect x="313.46" y="188.29" width="5.20" height="33.91" fill="#e09322"/>
<line x1="316.06" y1="181.51" x2="316.06" y2="188.79" stroke="#1a1a1a" stroke-width="1.2"/>
<line x1="314.36" y1="182.01" x2="317.76" y2="182.01" stroke="#1a1a1a" stroke-width="1.1"/>
<rect x="321.14" y="173.76" width="5.20" height="48.44" fill="#e09322"/>
<line x1="323.74" y1="166.01" x2="323.74" y2="174.26" stroke="#1a1a1a" stroke-width="1.2"/>
<line x1="322.04" y1="166.51" x2="325.44" y2="166.51" stroke="#1a1a1a" stroke-width="1.1"/>
<rect x="328.82" y="199.92" width="5.20" height="22.28" fill="#e09322"/>
<line x1="331.42" y1="194.11" x2="331.42" y2="200.42" stroke="#1a1a1a" stroke-width="1.2"/>
<line x1="329.72" y1="194.61" x2="333.12" y2="194.61" stroke="#1a1a1a" stroke-width="1.1"/>
<rect x="336.50" y="198.95" width="5.20" height="23.25" fill="#e09322"/>
<line x1="339.10" y1="195.07" x2="339.10" y2="199.45" stroke="#1a1a1a" stroke-width="1.2"/>
<line x1="337.40" y1="195.57" x2="340.80" y2="195.57" stroke="#1a1a1a" stroke-width="1.1"/>
<rect x="344.18" y="201.86" width="5.20" height="20.34" fill="#e09322"/>
<line x1="346.78" y1="197.98" x2="346.78" y2="202.36" stroke="#1a1a1a" stroke-width="1.2"/>
<line x1="345.08" y1="198.48" x2="348.48" y2="198.48" stroke="#1a1a1a" stroke-width="1.1"/>
<rect x="351.86" y="206.70" width="5.20" height="15.50" fill="#e09322"/>
<line x1="354.46" y1="203.79" x2="354.46" y2="207.20" stroke="#1a1a1a" stroke-width="1.2"/>
<line x1="352.76" y1="204.29" x2="356.16" y2="204.29" stroke="#1a1a1a" stroke-width="1.1"/>
<line x1="296.90" y1="141.30" x2="296.90" y2="222.80" stroke="#1a1a1a" stroke-width="1.5"/>
<line x1="296.20" y1="222.20" x2="360.00" y2="222.20" stroke="#1a1a1a" stroke-width="1.5"/>
<line x1="293.90" y1="222.20" x2="296.90" y2="222.20" stroke="#1a1a1a" stroke-width="1.3"/>
<text x="290.70" y="225.28" font-size="6.9" text-anchor="end" font-weight="normal" >0</text>
<line x1="293.90" y1="202.82" x2="296.90" y2="202.82" stroke="#1a1a1a" stroke-width="1.3"/>
<text x="290.70" y="205.91" font-size="6.9" text-anchor="end" font-weight="normal" >20</text>
<line x1="293.90" y1="183.45" x2="296.90" y2="183.45" stroke="#1a1a1a" stroke-width="1.3"/>
<text x="290.70" y="186.53" font-size="6.9" text-anchor="end" font-weight="normal" >40</text>
<line x1="293.90" y1="164.07" x2="296.90" y2="164.07" stroke="#1a1a1a" stroke-width="1.3"/>
<text x="290.70" y="167.16" font-size="6.9" text-anchor="end" font-weight="normal" >60</text>
<line x1="293.90" y1="144.70" x2="296.90" y2="144.70" stroke="#1a1a1a" stroke-width="1.3"/>
<text x="290.70" y="147.78" font-size="6.9" text-anchor="end" font-weight="normal" >80</text>
<text x="0" y="0" font-size="6.3" text-anchor="end" style="stroke-width:0.16px" transform="translate(302.97,225.80) rotate(-90)">C</text>
<text x="0" y="0" font-size="6.3" text-anchor="end" style="stroke-width:0.16px" transform="translate(310.65,225.80) rotate(-90)">H</text>
<text x="0" y="0" font-size="6.3" text-anchor="end" style="stroke-width:0.16px" transform="translate(318.33,225.80) rotate(-90)">R</text>
<text x="0" y="0" font-size="6.3" text-anchor="end" style="stroke-width:0.16px" transform="translate(326.01,225.80) rotate(-90)">O</text>
<text x="0" y="0" font-size="6.3" text-anchor="end" style="stroke-width:0.16px" transform="translate(333.69,225.80) rotate(-90)">HR</text>
<text x="0" y="0" font-size="6.3" text-anchor="end" style="stroke-width:0.16px" transform="translate(341.37,225.80) rotate(-90)">HO</text>
<text x="0" y="0" font-size="6.3" text-anchor="end" style="stroke-width:0.16px" transform="translate(349.05,225.80) rotate(-90)">RO</text>
<text x="0" y="0" font-size="6.3" text-anchor="end" style="stroke-width:0.16px" transform="translate(356.73,225.80) rotate(-90)">HRO</text>
<text x="307.60" y="136.80" font-size="8.6" text-anchor="start" font-weight="normal" textLength="42.10" lengthAdjust="spacingAndGlyphs"  style="stroke-width:0.1px">ET 4552-K</text>
<rect x="387.60" y="167.95" width="5.20" height="54.25" fill="#e09322"/>
<line x1="390.20" y1="152.45" x2="390.20" y2="168.45" stroke="#1a1a1a" stroke-width="1.2"/>
<line x1="388.50" y1="152.95" x2="391.90" y2="152.95" stroke="#1a1a1a" stroke-width="1.1"/>
<rect x="395.28" y="195.85" width="5.20" height="26.35" fill="#e09322"/>
<line x1="397.88" y1="191.20" x2="397.88" y2="196.35" stroke="#1a1a1a" stroke-width="1.2"/>
<line x1="396.18" y1="191.70" x2="399.58" y2="191.70" stroke="#1a1a1a" stroke-width="1.1"/>
<rect x="402.96" y="183.45" width="5.20" height="38.75" fill="#e09322"/>
<line x1="405.56" y1="172.60" x2="405.56" y2="183.95" stroke="#1a1a1a" stroke-width="1.2"/>
<line x1="403.86" y1="173.10" x2="407.26" y2="173.10" stroke="#1a1a1a" stroke-width="1.1"/>
<rect x="410.64" y="175.70" width="5.20" height="46.50" fill="#e09322"/>
<line x1="413.24" y1="167.95" x2="413.24" y2="176.20" stroke="#1a1a1a" stroke-width="1.2"/>
<line x1="411.54" y1="168.45" x2="414.94" y2="168.45" stroke="#1a1a1a" stroke-width="1.1"/>
<rect x="418.32" y="200.50" width="5.20" height="21.70" fill="#e09322"/>
<line x1="420.92" y1="192.75" x2="420.92" y2="201.00" stroke="#1a1a1a" stroke-width="1.2"/>
<line x1="419.22" y1="193.25" x2="422.62" y2="193.25" stroke="#1a1a1a" stroke-width="1.1"/>
<rect x="426.00" y="200.50" width="5.20" height="21.70" fill="#e09322"/>
<line x1="428.60" y1="185.00" x2="428.60" y2="201.00" stroke="#1a1a1a" stroke-width="1.2"/>
<line x1="426.90" y1="185.50" x2="430.30" y2="185.50" stroke="#1a1a1a" stroke-width="1.1"/>
<rect x="433.68" y="197.40" width="5.20" height="24.80" fill="#e09322"/>
<line x1="436.28" y1="182.52" x2="436.28" y2="197.90" stroke="#1a1a1a" stroke-width="1.2"/>
<line x1="434.58" y1="183.02" x2="437.98" y2="183.02" stroke="#1a1a1a" stroke-width="1.1"/>
<rect x="441.36" y="206.70" width="5.20" height="15.50" fill="#e09322"/>
<line x1="443.96" y1="194.30" x2="443.96" y2="207.20" stroke="#1a1a1a" stroke-width="1.2"/>
<line x1="442.26" y1="194.80" x2="445.66" y2="194.80" stroke="#1a1a1a" stroke-width="1.1"/>
<line x1="386.40" y1="141.30" x2="386.40" y2="222.80" stroke="#1a1a1a" stroke-width="1.5"/>
<line x1="385.70" y1="222.20" x2="450.00" y2="222.20" stroke="#1a1a1a" stroke-width="1.5"/>
<line x1="383.40" y1="222.20" x2="386.40" y2="222.20" stroke="#1a1a1a" stroke-width="1.3"/>
<text x="380.20" y="225.28" font-size="6.9" text-anchor="end" font-weight="normal" >0</text>
<line x1="383.40" y1="206.70" x2="386.40" y2="206.70" stroke="#1a1a1a" stroke-width="1.3"/>
<text x="380.20" y="209.78" font-size="6.9" text-anchor="end" font-weight="normal" >5</text>
<line x1="383.40" y1="191.20" x2="386.40" y2="191.20" stroke="#1a1a1a" stroke-width="1.3"/>
<text x="380.20" y="194.28" font-size="6.9" text-anchor="end" font-weight="normal" >10</text>
<line x1="383.40" y1="175.70" x2="386.40" y2="175.70" stroke="#1a1a1a" stroke-width="1.3"/>
<text x="380.20" y="178.78" font-size="6.9" text-anchor="end" font-weight="normal" >15</text>
<line x1="383.40" y1="160.20" x2="386.40" y2="160.20" stroke="#1a1a1a" stroke-width="1.3"/>
<text x="380.20" y="163.28" font-size="6.9" text-anchor="end" font-weight="normal" >20</text>
<line x1="383.40" y1="144.70" x2="386.40" y2="144.70" stroke="#1a1a1a" stroke-width="1.3"/>
<text x="380.20" y="147.78" font-size="6.9" text-anchor="end" font-weight="normal" >25</text>
<text x="0" y="0" font-size="6.3" text-anchor="end" style="stroke-width:0.16px" transform="translate(392.47,225.80) rotate(-90)">C</text>
<text x="0" y="0" font-size="6.3" text-anchor="end" style="stroke-width:0.16px" transform="translate(400.15,225.80) rotate(-90)">H</text>
<text x="0" y="0" font-size="6.3" text-anchor="end" style="stroke-width:0.16px" transform="translate(407.83,225.80) rotate(-90)">R</text>
<text x="0" y="0" font-size="6.3" text-anchor="end" style="stroke-width:0.16px" transform="translate(415.51,225.80) rotate(-90)">O</text>
<text x="0" y="0" font-size="6.3" text-anchor="end" style="stroke-width:0.16px" transform="translate(423.19,225.80) rotate(-90)">HR</text>
<text x="0" y="0" font-size="6.3" text-anchor="end" style="stroke-width:0.16px" transform="translate(430.87,225.80) rotate(-90)">HO</text>
<text x="0" y="0" font-size="6.3" text-anchor="end" style="stroke-width:0.16px" transform="translate(438.55,225.80) rotate(-90)">RO</text>
<text x="0" y="0" font-size="6.3" text-anchor="end" style="stroke-width:0.16px" transform="translate(446.23,225.80) rotate(-90)">HRO</text>
<text x="399.60" y="136.80" font-size="8.6" text-anchor="start" font-weight="normal" textLength="37.50" lengthAdjust="spacingAndGlyphs"  style="stroke-width:0.1px">PV 288-S</text>
<rect x="37.80" y="290.84" width="5.20" height="58.46" fill="#2f6a55"/>
<line x1="40.40" y1="277.75" x2="40.40" y2="291.34" stroke="#1a1a1a" stroke-width="1.2"/>
<line x1="38.70" y1="278.25" x2="42.10" y2="278.25" stroke="#1a1a1a" stroke-width="1.1"/>
<rect x="45.48" y="324.00" width="5.20" height="25.30" fill="#2f6a55"/>
<line x1="48.08" y1="316.14" x2="48.08" y2="324.50" stroke="#1a1a1a" stroke-width="1.2"/>
<line x1="46.38" y1="316.64" x2="49.78" y2="316.64" stroke="#1a1a1a" stroke-width="1.1"/>
<rect x="53.16" y="326.62" width="5.20" height="22.69" fill="#2f6a55"/>
<line x1="55.76" y1="323.12" x2="55.76" y2="327.12" stroke="#1a1a1a" stroke-width="1.2"/>
<line x1="54.06" y1="323.62" x2="57.46" y2="323.62" stroke="#1a1a1a" stroke-width="1.1"/>
<rect x="60.84" y="337.09" width="5.20" height="12.21" fill="#2f6a55"/>
<line x1="63.44" y1="334.47" x2="63.44" y2="337.59" stroke="#1a1a1a" stroke-width="1.2"/>
<line x1="61.74" y1="334.97" x2="65.14" y2="334.97" stroke="#1a1a1a" stroke-width="1.1"/>
<rect x="68.52" y="330.11" width="5.20" height="19.19" fill="#2f6a55"/>
<line x1="71.12" y1="327.49" x2="71.12" y2="330.61" stroke="#1a1a1a" stroke-width="1.2"/>
<line x1="69.42" y1="327.99" x2="72.82" y2="327.99" stroke="#1a1a1a" stroke-width="1.1"/>
<rect x="76.20" y="343.19" width="5.20" height="6.11" fill="#2f6a55"/>
<line x1="78.80" y1="340.57" x2="78.80" y2="343.69" stroke="#1a1a1a" stroke-width="1.2"/>
<line x1="77.10" y1="341.07" x2="80.50" y2="341.07" stroke="#1a1a1a" stroke-width="1.1"/>
<rect x="83.88" y="343.19" width="5.20" height="6.11" fill="#2f6a55"/>
<line x1="86.48" y1="340.57" x2="86.48" y2="343.69" stroke="#1a1a1a" stroke-width="1.2"/>
<line x1="84.78" y1="341.07" x2="88.18" y2="341.07" stroke="#1a1a1a" stroke-width="1.1"/>
<rect x="91.56" y="347.56" width="5.20" height="1.75" fill="#2f6a55"/>
<line x1="36.60" y1="271.60" x2="36.60" y2="349.90" stroke="#1a1a1a" stroke-width="1.5"/>
<line x1="35.90" y1="349.30" x2="98.80" y2="349.30" stroke="#1a1a1a" stroke-width="1.5"/>
<line x1="33.60" y1="349.30" x2="36.60" y2="349.30" stroke="#1a1a1a" stroke-width="1.3"/>
<text x="30.40" y="352.38" font-size="6.9" text-anchor="end" font-weight="normal" >0</text>
<line x1="33.60" y1="331.85" x2="36.60" y2="331.85" stroke="#1a1a1a" stroke-width="1.3"/>
<text x="30.40" y="334.93" font-size="6.9" text-anchor="end" font-weight="normal" >10</text>
<line x1="33.60" y1="314.40" x2="36.60" y2="314.40" stroke="#1a1a1a" stroke-width="1.3"/>
<text x="30.40" y="317.48" font-size="6.9" text-anchor="end" font-weight="normal" >20</text>
<line x1="33.60" y1="296.95" x2="36.60" y2="296.95" stroke="#1a1a1a" stroke-width="1.3"/>
<text x="30.40" y="300.03" font-size="6.9" text-anchor="end" font-weight="normal" >30</text>
<line x1="33.60" y1="279.50" x2="36.60" y2="279.50" stroke="#1a1a1a" stroke-width="1.3"/>
<text x="30.40" y="282.58" font-size="6.9" text-anchor="end" font-weight="normal" >40</text>
<text x="0" y="0" font-size="6.3" text-anchor="end" style="stroke-width:0.16px" transform="translate(42.67,352.90) rotate(-90)">C</text>
<text x="0" y="0" font-size="6.3" text-anchor="end" style="stroke-width:0.16px" transform="translate(50.35,352.90) rotate(-90)">H</text>
<text x="0" y="0" font-size="6.3" text-anchor="end" style="stroke-width:0.16px" transform="translate(58.03,352.90) rotate(-90)">R</text>
<text x="0" y="0" font-size="6.3" text-anchor="end" style="stroke-width:0.16px" transform="translate(65.71,352.90) rotate(-90)">O</text>
<text x="0" y="0" font-size="6.3" text-anchor="end" style="stroke-width:0.16px" transform="translate(73.39,352.90) rotate(-90)">HR</text>
<text x="0" y="0" font-size="6.3" text-anchor="end" style="stroke-width:0.16px" transform="translate(81.07,352.90) rotate(-90)">HO</text>
<text x="0" y="0" font-size="6.3" text-anchor="end" style="stroke-width:0.16px" transform="translate(88.75,352.90) rotate(-90)">RO</text>
<text x="0" y="0" font-size="6.3" text-anchor="end" style="stroke-width:0.16px" transform="translate(96.43,352.90) rotate(-90)">HRO</text>
<text x="49.40" y="266.70" font-size="8.6" text-anchor="start" font-weight="normal" textLength="37.60" lengthAdjust="spacingAndGlyphs"  style="stroke-width:0.1px">ET 168-S</text>
<rect x="117.80" y="279.05" width="5.20" height="70.25" fill="#2f6a55"/>
<line x1="120.40" y1="273.06" x2="120.40" y2="279.55" stroke="#1a1a1a" stroke-width="1.2"/>
<line x1="118.70" y1="273.56" x2="122.10" y2="273.56" stroke="#1a1a1a" stroke-width="1.1"/>
<rect x="125.48" y="314.18" width="5.20" height="35.12" fill="#2f6a55"/>
<line x1="128.08" y1="310.75" x2="128.08" y2="314.68" stroke="#1a1a1a" stroke-width="1.2"/>
<line x1="126.38" y1="311.25" x2="129.78" y2="311.25" stroke="#1a1a1a" stroke-width="1.1"/>
<rect x="133.16" y="315.03" width="5.20" height="34.27" fill="#2f6a55"/>
<line x1="135.76" y1="311.61" x2="135.76" y2="315.53" stroke="#1a1a1a" stroke-width="1.2"/>
<line x1="134.06" y1="312.11" x2="137.46" y2="312.11" stroke="#1a1a1a" stroke-width="1.1"/>
<rect x="140.84" y="327.03" width="5.20" height="22.27" fill="#2f6a55"/>
<line x1="143.44" y1="326.17" x2="143.44" y2="327.53" stroke="#1a1a1a" stroke-width="1.2"/>
<line x1="141.74" y1="326.67" x2="145.14" y2="326.67" stroke="#1a1a1a" stroke-width="1.1"/>
<rect x="148.52" y="325.31" width="5.20" height="23.99" fill="#2f6a55"/>
<line x1="151.12" y1="321.03" x2="151.12" y2="325.81" stroke="#1a1a1a" stroke-width="1.2"/>
<line x1="149.42" y1="321.53" x2="152.82" y2="321.53" stroke="#1a1a1a" stroke-width="1.1"/>
<rect x="156.20" y="331.31" width="5.20" height="17.99" fill="#2f6a55"/>
<line x1="158.80" y1="328.74" x2="158.80" y2="331.81" stroke="#1a1a1a" stroke-width="1.2"/>
<line x1="157.10" y1="329.24" x2="160.50" y2="329.24" stroke="#1a1a1a" stroke-width="1.1"/>
<rect x="163.88" y="333.45" width="5.20" height="15.85" fill="#2f6a55"/>
<line x1="166.48" y1="331.31" x2="166.48" y2="333.95" stroke="#1a1a1a" stroke-width="1.2"/>
<line x1="164.78" y1="331.81" x2="168.18" y2="331.81" stroke="#1a1a1a" stroke-width="1.1"/>
<rect x="171.56" y="346.73" width="5.20" height="2.57" fill="#2f6a55"/>
<line x1="174.16" y1="344.59" x2="174.16" y2="347.23" stroke="#1a1a1a" stroke-width="1.2"/>
<line x1="172.46" y1="345.09" x2="175.86" y2="345.09" stroke="#1a1a1a" stroke-width="1.1"/>
<line x1="116.60" y1="269.20" x2="116.60" y2="349.90" stroke="#1a1a1a" stroke-width="1.5"/>
<line x1="115.90" y1="349.30" x2="177.90" y2="349.30" stroke="#1a1a1a" stroke-width="1.5"/>
<line x1="113.60" y1="349.30" x2="116.60" y2="349.30" stroke="#1a1a1a" stroke-width="1.3"/>
<text x="110.40" y="352.38" font-size="6.9" text-anchor="end" font-weight="normal" >0</text>
<line x1="113.60" y1="323.60" x2="116.60" y2="323.60" stroke="#1a1a1a" stroke-width="1.3"/>
<text x="110.40" y="326.68" font-size="6.9" text-anchor="end" font-weight="normal" >30</text>
<line x1="113.60" y1="297.90" x2="116.60" y2="297.90" stroke="#1a1a1a" stroke-width="1.3"/>
<text x="110.40" y="300.98" font-size="6.9" text-anchor="end" font-weight="normal" >60</text>
<line x1="113.60" y1="272.20" x2="116.60" y2="272.20" stroke="#1a1a1a" stroke-width="1.3"/>
<text x="110.40" y="275.28" font-size="6.9" text-anchor="end" font-weight="normal" >90</text>
<text x="0" y="0" font-size="6.3" text-anchor="end" style="stroke-width:0.16px" transform="translate(122.67,352.90) rotate(-90)">C</text>
<text x="0" y="0" font-size="6.3" text-anchor="end" style="stroke-width:0.16px" transform="translate(130.35,352.90) rotate(-90)">H</text>
<text x="0" y="0" font-size="6.3" text-anchor="end" style="stroke-width:0.16px" transform="translate(138.03,352.90) rotate(-90)">R</text>
<text x="0" y="0" font-size="6.3" text-anchor="end" style="stroke-width:0.16px" transform="translate(145.71,352.90) rotate(-90)">O</text>
<text x="0" y="0" font-size="6.3" text-anchor="end" style="stroke-width:0.16px" transform="translate(153.39,352.90) rotate(-90)">HR</text>
<text x="0" y="0" font-size="6.3" text-anchor="end" style="stroke-width:0.16px" transform="translate(161.07,352.90) rotate(-90)">HO</text>
<text x="0" y="0" font-size="6.3" text-anchor="end" style="stroke-width:0.16px" transform="translate(168.75,352.90) rotate(-90)">RO</text>
<text x="0" y="0" font-size="6.3" text-anchor="end" style="stroke-width:0.16px" transform="translate(176.43,352.90) rotate(-90)">HRO</text>
<text x="123.00" y="266.70" font-size="8.6" text-anchor="start" font-weight="normal" textLength="49.00" lengthAdjust="spacingAndGlyphs"  style="stroke-width:0.1px">ET CV096-G</text>
<rect x="201.40" y="280.02" width="5.20" height="69.28" fill="#2f6a55"/>
<line x1="204.00" y1="276.13" x2="204.00" y2="280.52" stroke="#1a1a1a" stroke-width="1.2"/>
<line x1="202.30" y1="276.63" x2="205.70" y2="276.63" stroke="#1a1a1a" stroke-width="1.1"/>
<rect x="209.08" y="309.80" width="5.20" height="39.50" fill="#2f6a55"/>
<line x1="211.68" y1="303.33" x2="211.68" y2="310.30" stroke="#1a1a1a" stroke-width="1.2"/>
<line x1="209.98" y1="303.83" x2="213.38" y2="303.83" stroke="#1a1a1a" stroke-width="1.1"/>
<rect x="216.76" y="308.90" width="5.20" height="40.40" fill="#2f6a55"/>
<line x1="219.36" y1="303.33" x2="219.36" y2="309.40" stroke="#1a1a1a" stroke-width="1.2"/>
<line x1="217.66" y1="303.83" x2="221.06" y2="303.83" stroke="#1a1a1a" stroke-width="1.1"/>
<rect x="224.44" y="320.81" width="5.20" height="28.49" fill="#2f6a55"/>
<line x1="227.04" y1="314.98" x2="227.04" y2="321.31" stroke="#1a1a1a" stroke-width="1.2"/>
<line x1="225.34" y1="315.48" x2="228.74" y2="315.48" stroke="#1a1a1a" stroke-width="1.1"/>
<rect x="232.12" y="317.57" width="5.20" height="31.73" fill="#2f6a55"/>
<line x1="234.72" y1="315.37" x2="234.72" y2="318.07" stroke="#1a1a1a" stroke-width="1.2"/>
<line x1="233.02" y1="315.87" x2="236.42" y2="315.87" stroke="#1a1a1a" stroke-width="1.1"/>
<rect x="239.80" y="335.70" width="5.20" height="13.60" fill="#2f6a55"/>
<line x1="242.40" y1="331.17" x2="242.40" y2="336.20" stroke="#1a1a1a" stroke-width="1.2"/>
<line x1="240.70" y1="331.67" x2="244.10" y2="331.67" stroke="#1a1a1a" stroke-width="1.1"/>
<rect x="247.48" y="342.18" width="5.20" height="7.12" fill="#2f6a55"/>
<line x1="250.08" y1="338.94" x2="250.08" y2="342.68" stroke="#1a1a1a" stroke-width="1.2"/>
<line x1="248.38" y1="339.44" x2="251.78" y2="339.44" stroke="#1a1a1a" stroke-width="1.1"/>
<rect x="255.16" y="348.00" width="5.20" height="1.30" fill="#2f6a55"/>
<line x1="257.76" y1="346.97" x2="257.76" y2="348.50" stroke="#1a1a1a" stroke-width="1.2"/>
<line x1="256.06" y1="347.47" x2="259.46" y2="347.47" stroke="#1a1a1a" stroke-width="1.1"/>
<line x1="200.20" y1="269.20" x2="200.20" y2="349.90" stroke="#1a1a1a" stroke-width="1.5"/>
<line x1="199.50" y1="349.30" x2="261.40" y2="349.30" stroke="#1a1a1a" stroke-width="1.5"/>
<line x1="197.20" y1="349.30" x2="200.20" y2="349.30" stroke="#1a1a1a" stroke-width="1.3"/>
<text x="194.00" y="352.38" font-size="6.9" text-anchor="end" font-weight="normal" >0</text>
<line x1="197.20" y1="336.35" x2="200.20" y2="336.35" stroke="#1a1a1a" stroke-width="1.3"/>
<text x="194.00" y="339.43" font-size="6.9" text-anchor="end" font-weight="normal" >100</text>
<line x1="197.20" y1="323.40" x2="200.20" y2="323.40" stroke="#1a1a1a" stroke-width="1.3"/>
<text x="194.00" y="326.48" font-size="6.9" text-anchor="end" font-weight="normal" >200</text>
<line x1="197.20" y1="310.45" x2="200.20" y2="310.45" stroke="#1a1a1a" stroke-width="1.3"/>
<text x="194.00" y="313.53" font-size="6.9" text-anchor="end" font-weight="normal" >300</text>
<line x1="197.20" y1="297.50" x2="200.20" y2="297.50" stroke="#1a1a1a" stroke-width="1.3"/>
<text x="194.00" y="300.58" font-size="6.9" text-anchor="end" font-weight="normal" >400</text>
<line x1="197.20" y1="284.55" x2="200.20" y2="284.55" stroke="#1a1a1a" stroke-width="1.3"/>
<text x="194.00" y="287.63" font-size="6.9" text-anchor="end" font-weight="normal" >500</text>
<line x1="197.20" y1="271.60" x2="200.20" y2="271.60" stroke="#1a1a1a" stroke-width="1.3"/>
<text x="194.00" y="274.68" font-size="6.9" text-anchor="end" font-weight="normal" >600</text>
<text x="0" y="0" font-size="6.3" text-anchor="end" style="stroke-width:0.16px" transform="translate(206.27,352.90) rotate(-90)">C</text>
<text x="0" y="0" font-size="6.3" text-anchor="end" style="stroke-width:0.16px" transform="translate(213.95,352.90) rotate(-90)">H</text>
<text x="0" y="0" font-size="6.3" text-anchor="end" style="stroke-width:0.16px" transform="translate(221.63,352.90) rotate(-90)">R</text>
<text x="0" y="0" font-size="6.3" text-anchor="end" style="stroke-width:0.16px" transform="translate(229.31,352.90) rotate(-90)">O</text>
<text x="0" y="0" font-size="6.3" text-anchor="end" style="stroke-width:0.16px" transform="translate(236.99,352.90) rotate(-90)">HR</text>
<text x="0" y="0" font-size="6.3" text-anchor="end" style="stroke-width:0.16px" transform="translate(244.67,352.90) rotate(-90)">HO</text>
<text x="0" y="0" font-size="6.3" text-anchor="end" style="stroke-width:0.16px" transform="translate(252.35,352.90) rotate(-90)">RO</text>
<text x="0" y="0" font-size="6.3" text-anchor="end" style="stroke-width:0.16px" transform="translate(260.03,352.90) rotate(-90)">HRO</text>
<text x="213.40" y="266.70" font-size="8.6" text-anchor="start" font-weight="normal" textLength="36.20" lengthAdjust="spacingAndGlyphs"  style="stroke-width:0.1px">ET 055-S</text>
<rect x="284.40" y="277.49" width="5.20" height="71.81" fill="#2f6a55"/>
<line x1="287.00" y1="273.62" x2="287.00" y2="277.99" stroke="#1a1a1a" stroke-width="1.2"/>
<line x1="285.30" y1="274.12" x2="288.70" y2="274.12" stroke="#1a1a1a" stroke-width="1.1"/>
<rect x="292.08" y="312.75" width="5.20" height="36.55" fill="#2f6a55"/>
<line x1="294.68" y1="309.74" x2="294.68" y2="313.25" stroke="#1a1a1a" stroke-width="1.2"/>
<line x1="292.98" y1="310.24" x2="296.38" y2="310.24" stroke="#1a1a1a" stroke-width="1.1"/>
<rect x="299.76" y="319.20" width="5.20" height="30.10" fill="#2f6a55"/>
<line x1="302.36" y1="317.48" x2="302.36" y2="319.70" stroke="#1a1a1a" stroke-width="1.2"/>
<line x1="300.66" y1="317.98" x2="304.06" y2="317.98" stroke="#1a1a1a" stroke-width="1.1"/>
<rect x="307.44" y="301.14" width="5.20" height="48.16" fill="#2f6a55"/>
<line x1="310.04" y1="298.13" x2="310.04" y2="301.64" stroke="#1a1a1a" stroke-width="1.2"/>
<line x1="308.34" y1="298.63" x2="311.74" y2="298.63" stroke="#1a1a1a" stroke-width="1.1"/>
<rect x="315.12" y="324.79" width="5.20" height="24.51" fill="#2f6a55"/>
<line x1="317.72" y1="321.78" x2="317.72" y2="325.29" stroke="#1a1a1a" stroke-width="1.2"/>
<line x1="316.02" y1="322.28" x2="319.42" y2="322.28" stroke="#1a1a1a" stroke-width="1.1"/>
<rect x="322.80" y="318.34" width="5.20" height="30.96" fill="#2f6a55"/>
<line x1="325.40" y1="314.04" x2="325.40" y2="318.84" stroke="#1a1a1a" stroke-width="1.2"/>
<line x1="323.70" y1="314.54" x2="327.10" y2="314.54" stroke="#1a1a1a" stroke-width="1.1"/>
<rect x="330.48" y="335.54" width="5.20" height="13.76" fill="#2f6a55"/>
<line x1="333.08" y1="333.39" x2="333.08" y2="336.04" stroke="#1a1a1a" stroke-width="1.2"/>
<line x1="331.38" y1="333.89" x2="334.78" y2="333.89" stroke="#1a1a1a" stroke-width="1.1"/>
<rect x="338.16" y="345.43" width="5.20" height="3.87" fill="#2f6a55"/>
<line x1="340.76" y1="344.14" x2="340.76" y2="345.93" stroke="#1a1a1a" stroke-width="1.2"/>
<line x1="339.06" y1="344.64" x2="342.46" y2="344.64" stroke="#1a1a1a" stroke-width="1.1"/>
<line x1="283.20" y1="271.60" x2="283.20" y2="349.90" stroke="#1a1a1a" stroke-width="1.5"/>
<line x1="282.50" y1="349.30" x2="345.90" y2="349.30" stroke="#1a1a1a" stroke-width="1.5"/>
<line x1="280.20" y1="349.30" x2="283.20" y2="349.30" stroke="#1a1a1a" stroke-width="1.3"/>
<text x="277.00" y="352.38" font-size="6.9" text-anchor="end" font-weight="normal" >0</text>
<line x1="280.20" y1="332.10" x2="283.20" y2="332.10" stroke="#1a1a1a" stroke-width="1.3"/>
<text x="277.00" y="335.18" font-size="6.9" text-anchor="end" font-weight="normal" >200</text>
<line x1="280.20" y1="314.90" x2="283.20" y2="314.90" stroke="#1a1a1a" stroke-width="1.3"/>
<text x="277.00" y="317.98" font-size="6.9" text-anchor="end" font-weight="normal" >400</text>
<line x1="280.20" y1="297.70" x2="283.20" y2="297.70" stroke="#1a1a1a" stroke-width="1.3"/>
<text x="277.00" y="300.78" font-size="6.9" text-anchor="end" font-weight="normal" >600</text>
<line x1="280.20" y1="280.50" x2="283.20" y2="280.50" stroke="#1a1a1a" stroke-width="1.3"/>
<text x="277.00" y="283.58" font-size="6.9" text-anchor="end" font-weight="normal" >800</text>
<text x="0" y="0" font-size="6.3" text-anchor="end" style="stroke-width:0.16px" transform="translate(289.27,352.90) rotate(-90)">C</text>
<text x="0" y="0" font-size="6.3" text-anchor="end" style="stroke-width:0.16px" transform="translate(296.95,352.90) rotate(-90)">H</text>
<text x="0" y="0" font-size="6.3" text-anchor="end" style="stroke-width:0.16px" transform="translate(304.63,352.90) rotate(-90)">R</text>
<text x="0" y="0" font-size="6.3" text-anchor="end" style="stroke-width:0.16px" transform="translate(312.31,352.90) rotate(-90)">O</text>
<text x="0" y="0" font-size="6.3" text-anchor="end" style="stroke-width:0.16px" transform="translate(319.99,352.90) rotate(-90)">HR</text>
<text x="0" y="0" font-size="6.3" text-anchor="end" style="stroke-width:0.16px" transform="translate(327.67,352.90) rotate(-90)">HO</text>
<text x="0" y="0" font-size="6.3" text-anchor="end" style="stroke-width:0.16px" transform="translate(335.35,352.90) rotate(-90)">RO</text>
<text x="0" y="0" font-size="6.3" text-anchor="end" style="stroke-width:0.16px" transform="translate(343.03,352.90) rotate(-90)">HRO</text>
<text x="296.40" y="266.70" font-size="8.6" text-anchor="start" font-weight="normal" textLength="36.60" lengthAdjust="spacingAndGlyphs"  style="stroke-width:0.1px">ET 215-S</text>
<rect x="364.50" y="283.56" width="5.20" height="65.74" fill="#2f6a55"/>
<line x1="367.10" y1="275.78" x2="367.10" y2="284.06" stroke="#1a1a1a" stroke-width="1.2"/>
<line x1="365.40" y1="276.28" x2="368.80" y2="276.28" stroke="#1a1a1a" stroke-width="1.1"/>
<rect x="372.18" y="320.75" width="5.20" height="28.55" fill="#2f6a55"/>
<line x1="374.78" y1="316.43" x2="374.78" y2="321.25" stroke="#1a1a1a" stroke-width="1.2"/>
<line x1="373.08" y1="316.93" x2="376.48" y2="316.93" stroke="#1a1a1a" stroke-width="1.1"/>
<rect x="379.86" y="321.19" width="5.20" height="28.11" fill="#2f6a55"/>
<line x1="382.46" y1="315.56" x2="382.46" y2="321.69" stroke="#1a1a1a" stroke-width="1.2"/>
<line x1="380.76" y1="316.06" x2="384.16" y2="316.06" stroke="#1a1a1a" stroke-width="1.1"/>
<rect x="387.54" y="321.62" width="5.20" height="27.68" fill="#2f6a55"/>
<line x1="390.14" y1="312.11" x2="390.14" y2="322.12" stroke="#1a1a1a" stroke-width="1.2"/>
<line x1="388.44" y1="312.61" x2="391.84" y2="312.61" stroke="#1a1a1a" stroke-width="1.1"/>
<rect x="395.22" y="334.16" width="5.20" height="15.14" fill="#2f6a55"/>
<line x1="397.82" y1="332.87" x2="397.82" y2="334.66" stroke="#1a1a1a" stroke-width="1.2"/>
<line x1="396.12" y1="333.37" x2="399.52" y2="333.37" stroke="#1a1a1a" stroke-width="1.1"/>
<rect x="402.90" y="338.49" width="5.20" height="10.81" fill="#2f6a55"/>
<line x1="405.50" y1="336.32" x2="405.50" y2="338.99" stroke="#1a1a1a" stroke-width="1.2"/>
<line x1="403.80" y1="336.82" x2="407.20" y2="336.82" stroke="#1a1a1a" stroke-width="1.1"/>
<rect x="410.58" y="337.19" width="5.20" height="12.11" fill="#2f6a55"/>
<line x1="413.18" y1="334.16" x2="413.18" y2="337.69" stroke="#1a1a1a" stroke-width="1.2"/>
<line x1="411.48" y1="334.66" x2="414.88" y2="334.66" stroke="#1a1a1a" stroke-width="1.1"/>
<rect x="418.26" y="335.89" width="5.20" height="13.41" fill="#2f6a55"/>
<line x1="420.86" y1="335.46" x2="420.86" y2="336.39" stroke="#1a1a1a" stroke-width="1.2"/>
<line x1="419.16" y1="335.96" x2="422.56" y2="335.96" stroke="#1a1a1a" stroke-width="1.1"/>
<line x1="363.30" y1="271.60" x2="363.30" y2="349.90" stroke="#1a1a1a" stroke-width="1.5"/>
<line x1="362.60" y1="349.30" x2="425.90" y2="349.30" stroke="#1a1a1a" stroke-width="1.5"/>
<line x1="360.30" y1="349.30" x2="363.30" y2="349.30" stroke="#1a1a1a" stroke-width="1.3"/>
<text x="357.10" y="352.38" font-size="6.9" text-anchor="end" font-weight="normal" >0</text>
<line x1="360.30" y1="332.00" x2="363.30" y2="332.00" stroke="#1a1a1a" stroke-width="1.3"/>
<text x="357.10" y="335.08" font-size="6.9" text-anchor="end" font-weight="normal" >20</text>
<line x1="360.30" y1="314.70" x2="363.30" y2="314.70" stroke="#1a1a1a" stroke-width="1.3"/>
<text x="357.10" y="317.78" font-size="6.9" text-anchor="end" font-weight="normal" >40</text>
<line x1="360.30" y1="297.40" x2="363.30" y2="297.40" stroke="#1a1a1a" stroke-width="1.3"/>
<text x="357.10" y="300.48" font-size="6.9" text-anchor="end" font-weight="normal" >60</text>
<line x1="360.30" y1="280.10" x2="363.30" y2="280.10" stroke="#1a1a1a" stroke-width="1.3"/>
<text x="357.10" y="283.18" font-size="6.9" text-anchor="end" font-weight="normal" >80</text>
<text x="0" y="0" font-size="6.3" text-anchor="end" style="stroke-width:0.16px" transform="translate(369.37,352.90) rotate(-90)">C</text>
<text x="0" y="0" font-size="6.3" text-anchor="end" style="stroke-width:0.16px" transform="translate(377.05,352.90) rotate(-90)">H</text>
<text x="0" y="0" font-size="6.3" text-anchor="end" style="stroke-width:0.16px" transform="translate(384.73,352.90) rotate(-90)">R</text>
<text x="0" y="0" font-size="6.3" text-anchor="end" style="stroke-width:0.16px" transform="translate(392.41,352.90) rotate(-90)">O</text>
<text x="0" y="0" font-size="6.3" text-anchor="end" style="stroke-width:0.16px" transform="translate(400.09,352.90) rotate(-90)">HR</text>
<text x="0" y="0" font-size="6.3" text-anchor="end" style="stroke-width:0.16px" transform="translate(407.77,352.90) rotate(-90)">HO</text>
<text x="0" y="0" font-size="6.3" text-anchor="end" style="stroke-width:0.16px" transform="translate(415.45,352.90) rotate(-90)">RO</text>
<text x="0" y="0" font-size="6.3" text-anchor="end" style="stroke-width:0.16px" transform="translate(423.13,352.90) rotate(-90)">HRO</text>
<text x="376.50" y="266.70" font-size="8.6" text-anchor="start" font-weight="normal" textLength="36.50" lengthAdjust="spacingAndGlyphs"  style="stroke-width:0.1px">ET 073-S</text>
<rect x="451.80" y="276.26" width="5.20" height="73.04" fill="#2f6a55"/>
<line x1="454.40" y1="274.32" x2="454.40" y2="276.76" stroke="#1a1a1a" stroke-width="1.2"/>
<line x1="452.70" y1="274.82" x2="456.10" y2="274.82" stroke="#1a1a1a" stroke-width="1.1"/>
<rect x="459.48" y="314.72" width="5.20" height="34.58" fill="#2f6a55"/>
<line x1="462.08" y1="311.23" x2="462.08" y2="315.22" stroke="#1a1a1a" stroke-width="1.2"/>
<line x1="460.38" y1="311.73" x2="463.78" y2="311.73" stroke="#1a1a1a" stroke-width="1.1"/>
<rect x="467.16" y="319.77" width="5.20" height="29.53" fill="#2f6a55"/>
<line x1="469.76" y1="317.44" x2="469.76" y2="320.27" stroke="#1a1a1a" stroke-width="1.2"/>
<line x1="468.06" y1="317.94" x2="471.46" y2="317.94" stroke="#1a1a1a" stroke-width="1.1"/>
<rect x="474.84" y="284.03" width="5.20" height="65.27" fill="#2f6a55"/>
<line x1="477.44" y1="280.92" x2="477.44" y2="284.53" stroke="#1a1a1a" stroke-width="1.2"/>
<line x1="475.74" y1="281.42" x2="479.14" y2="281.42" stroke="#1a1a1a" stroke-width="1.1"/>
<rect x="482.52" y="329.10" width="5.20" height="20.20" fill="#2f6a55"/>
<line x1="485.12" y1="326.38" x2="485.12" y2="329.60" stroke="#1a1a1a" stroke-width="1.2"/>
<line x1="483.42" y1="326.88" x2="486.82" y2="326.88" stroke="#1a1a1a" stroke-width="1.1"/>
<rect x="490.20" y="321.72" width="5.20" height="27.58" fill="#2f6a55"/>
<line x1="492.80" y1="318.61" x2="492.80" y2="322.22" stroke="#1a1a1a" stroke-width="1.2"/>
<line x1="491.10" y1="319.11" x2="494.50" y2="319.11" stroke="#1a1a1a" stroke-width="1.1"/>
<rect x="497.88" y="331.43" width="5.20" height="17.87" fill="#2f6a55"/>
<line x1="500.48" y1="323.27" x2="500.48" y2="331.93" stroke="#1a1a1a" stroke-width="1.2"/>
<line x1="498.78" y1="323.77" x2="502.18" y2="323.77" stroke="#1a1a1a" stroke-width="1.1"/>
<rect x="505.56" y="338.42" width="5.20" height="10.88" fill="#2f6a55"/>
<line x1="508.16" y1="331.43" x2="508.16" y2="338.92" stroke="#1a1a1a" stroke-width="1.2"/>
<line x1="506.46" y1="331.93" x2="509.86" y2="331.93" stroke="#1a1a1a" stroke-width="1.1"/>
<line x1="450.60" y1="269.20" x2="450.60" y2="349.90" stroke="#1a1a1a" stroke-width="1.5"/>
<line x1="449.90" y1="349.30" x2="511.90" y2="349.30" stroke="#1a1a1a" stroke-width="1.5"/>
<line x1="447.60" y1="349.30" x2="450.60" y2="349.30" stroke="#1a1a1a" stroke-width="1.3"/>
<text x="444.40" y="352.38" font-size="6.9" text-anchor="end" font-weight="normal" >0</text>
<line x1="447.60" y1="333.76" x2="450.60" y2="333.76" stroke="#1a1a1a" stroke-width="1.3"/>
<text x="444.40" y="336.84" font-size="6.9" text-anchor="end" font-weight="normal" >200</text>
<line x1="447.60" y1="318.22" x2="450.60" y2="318.22" stroke="#1a1a1a" stroke-width="1.3"/>
<text x="444.40" y="321.30" font-size="6.9" text-anchor="end" font-weight="normal" >400</text>
<line x1="447.60" y1="302.68" x2="450.60" y2="302.68" stroke="#1a1a1a" stroke-width="1.3"/>
<text x="444.40" y="305.76" font-size="6.9" text-anchor="end" font-weight="normal" >600</text>
<line x1="447.60" y1="287.14" x2="450.60" y2="287.14" stroke="#1a1a1a" stroke-width="1.3"/>
<text x="444.40" y="290.22" font-size="6.9" text-anchor="end" font-weight="normal" >800</text>
<line x1="447.60" y1="271.60" x2="450.60" y2="271.60" stroke="#1a1a1a" stroke-width="1.3"/>
<text x="444.40" y="274.68" font-size="6.9" text-anchor="end" font-weight="normal" >1000</text>
<text x="0" y="0" font-size="6.3" text-anchor="end" style="stroke-width:0.16px" transform="translate(456.67,352.90) rotate(-90)">C</text>
<text x="0" y="0" font-size="6.3" text-anchor="end" style="stroke-width:0.16px" transform="translate(464.35,352.90) rotate(-90)">H</text>
<text x="0" y="0" font-size="6.3" text-anchor="end" style="stroke-width:0.16px" transform="translate(472.03,352.90) rotate(-90)">R</text>
<text x="0" y="0" font-size="6.3" text-anchor="end" style="stroke-width:0.16px" transform="translate(479.71,352.90) rotate(-90)">O</text>
<text x="0" y="0" font-size="6.3" text-anchor="end" style="stroke-width:0.16px" transform="translate(487.39,352.90) rotate(-90)">HR</text>
<text x="0" y="0" font-size="6.3" text-anchor="end" style="stroke-width:0.16px" transform="translate(495.07,352.90) rotate(-90)">HO</text>
<text x="0" y="0" font-size="6.3" text-anchor="end" style="stroke-width:0.16px" transform="translate(502.75,352.90) rotate(-90)">RO</text>
<text x="0" y="0" font-size="6.3" text-anchor="end" style="stroke-width:0.16px" transform="translate(510.43,352.90) rotate(-90)">HRO</text>
<text x="463.50" y="266.70" font-size="8.6" text-anchor="start" font-weight="normal" textLength="36.50" lengthAdjust="spacingAndGlyphs"  style="stroke-width:0.1px">ET 109-S</text>
<rect x="37.80" y="416.00" width="5.20" height="65.60" fill="#4e2263"/>
<line x1="40.40" y1="406.62" x2="40.40" y2="416.50" stroke="#1a1a1a" stroke-width="1.2"/>
<line x1="38.70" y1="407.12" x2="42.10" y2="407.12" stroke="#1a1a1a" stroke-width="1.1"/>
<rect x="45.48" y="445.67" width="5.20" height="35.93" fill="#4e2263"/>
<line x1="48.08" y1="442.03" x2="48.08" y2="446.17" stroke="#1a1a1a" stroke-width="1.2"/>
<line x1="46.38" y1="442.53" x2="49.78" y2="442.53" stroke="#1a1a1a" stroke-width="1.1"/>
<rect x="53.16" y="443.33" width="5.20" height="38.27" fill="#4e2263"/>
<line x1="55.76" y1="436.82" x2="55.76" y2="443.83" stroke="#1a1a1a" stroke-width="1.2"/>
<line x1="54.06" y1="437.32" x2="57.46" y2="437.32" stroke="#1a1a1a" stroke-width="1.1"/>
<rect x="60.84" y="465.46" width="5.20" height="16.14" fill="#4e2263"/>
<line x1="63.44" y1="462.08" x2="63.44" y2="465.96" stroke="#1a1a1a" stroke-width="1.2"/>
<line x1="61.74" y1="462.58" x2="65.14" y2="462.58" stroke="#1a1a1a" stroke-width="1.1"/>
<rect x="68.52" y="455.57" width="5.20" height="26.03" fill="#4e2263"/>
<line x1="71.12" y1="452.44" x2="71.12" y2="456.07" stroke="#1a1a1a" stroke-width="1.2"/>
<line x1="69.42" y1="452.94" x2="72.82" y2="452.94" stroke="#1a1a1a" stroke-width="1.1"/>
<rect x="76.20" y="471.19" width="5.20" height="10.41" fill="#4e2263"/>
<line x1="78.80" y1="470.41" x2="78.80" y2="471.69" stroke="#1a1a1a" stroke-width="1.2"/>
<line x1="77.10" y1="470.91" x2="80.50" y2="470.91" stroke="#1a1a1a" stroke-width="1.1"/>
<rect x="83.88" y="474.57" width="5.20" height="7.03" fill="#4e2263"/>
<line x1="86.48" y1="474.31" x2="86.48" y2="475.07" stroke="#1a1a1a" stroke-width="1.2"/>
<line x1="84.78" y1="474.81" x2="88.18" y2="474.81" stroke="#1a1a1a" stroke-width="1.1"/>
<rect x="91.56" y="480.56" width="5.20" height="1.04" fill="#4e2263"/>
<line x1="94.16" y1="480.30" x2="94.16" y2="481.06" stroke="#1a1a1a" stroke-width="1.2"/>
<line x1="92.46" y1="480.80" x2="95.86" y2="480.80" stroke="#1a1a1a" stroke-width="1.1"/>
<line x1="36.60" y1="401.10" x2="36.60" y2="482.20" stroke="#1a1a1a" stroke-width="1.5"/>
<line x1="35.90" y1="481.60" x2="97.00" y2="481.60" stroke="#1a1a1a" stroke-width="1.5"/>
<line x1="33.60" y1="481.60" x2="36.60" y2="481.60" stroke="#1a1a1a" stroke-width="1.3"/>
<text x="30.40" y="484.68" font-size="6.9" text-anchor="end" font-weight="normal" >0</text>
<line x1="33.60" y1="468.58" x2="36.60" y2="468.58" stroke="#1a1a1a" stroke-width="1.3"/>
<text x="30.40" y="471.67" font-size="6.9" text-anchor="end" font-weight="normal" >50</text>
<line x1="33.60" y1="455.57" x2="36.60" y2="455.57" stroke="#1a1a1a" stroke-width="1.3"/>
<text x="30.40" y="458.65" font-size="6.9" text-anchor="end" font-weight="normal" >100</text>
<line x1="33.60" y1="442.55" x2="36.60" y2="442.55" stroke="#1a1a1a" stroke-width="1.3"/>
<text x="30.40" y="445.63" font-size="6.9" text-anchor="end" font-weight="normal" >150</text>
<line x1="33.60" y1="429.53" x2="36.60" y2="429.53" stroke="#1a1a1a" stroke-width="1.3"/>
<text x="30.40" y="432.62" font-size="6.9" text-anchor="end" font-weight="normal" >200</text>
<line x1="33.60" y1="416.52" x2="36.60" y2="416.52" stroke="#1a1a1a" stroke-width="1.3"/>
<text x="30.40" y="419.60" font-size="6.9" text-anchor="end" font-weight="normal" >250</text>
<line x1="33.60" y1="403.50" x2="36.60" y2="403.50" stroke="#1a1a1a" stroke-width="1.3"/>
<text x="30.40" y="406.58" font-size="6.9" text-anchor="end" font-weight="normal" >300</text>
<text x="0" y="0" font-size="6.3" text-anchor="end" style="stroke-width:0.16px" transform="translate(42.67,485.20) rotate(-90)">C</text>
<text x="0" y="0" font-size="6.3" text-anchor="end" style="stroke-width:0.16px" transform="translate(50.35,485.20) rotate(-90)">H</text>
<text x="0" y="0" font-size="6.3" text-anchor="end" style="stroke-width:0.16px" transform="translate(58.03,485.20) rotate(-90)">R</text>
<text x="0" y="0" font-size="6.3" text-anchor="end" style="stroke-width:0.16px" transform="translate(65.71,485.20) rotate(-90)">O</text>
<text x="0" y="0" font-size="6.3" text-anchor="end" style="stroke-width:0.16px" transform="translate(73.39,485.20) rotate(-90)">HR</text>
<text x="0" y="0" font-size="6.3" text-anchor="end" style="stroke-width:0.16px" transform="translate(81.07,485.20) rotate(-90)">HO</text>
<text x="0" y="0" font-size="6.3" text-anchor="end" style="stroke-width:0.16px" transform="translate(88.75,485.20) rotate(-90)">RO</text>
<text x="0" y="0" font-size="6.3" text-anchor="end" style="stroke-width:0.16px" transform="translate(96.43,485.20) rotate(-90)">HRO</text>
<text x="37.50" y="395.20" font-size="8.6" text-anchor="start" font-weight="normal" textLength="60.30" lengthAdjust="spacingAndGlyphs"  style="stroke-width:0.1px">PMF PF4594-G</text>
<rect x="122.80" y="412.73" width="5.20" height="68.87" fill="#4e2263"/>
<line x1="125.40" y1="408.37" x2="125.40" y2="413.23" stroke="#1a1a1a" stroke-width="1.2"/>
<line x1="123.70" y1="408.87" x2="127.10" y2="408.87" stroke="#1a1a1a" stroke-width="1.1"/>
<rect x="130.48" y="446.68" width="5.20" height="34.92" fill="#4e2263"/>
<line x1="133.08" y1="442.31" x2="133.08" y2="447.18" stroke="#1a1a1a" stroke-width="1.2"/>
<line x1="131.38" y1="442.81" x2="134.78" y2="442.81" stroke="#1a1a1a" stroke-width="1.1"/>
<rect x="138.16" y="444.93" width="5.20" height="36.67" fill="#4e2263"/>
<line x1="140.76" y1="441.05" x2="140.76" y2="445.43" stroke="#1a1a1a" stroke-width="1.2"/>
<line x1="139.06" y1="441.55" x2="142.46" y2="441.55" stroke="#1a1a1a" stroke-width="1.1"/>
<rect x="145.84" y="463.17" width="5.20" height="18.43" fill="#4e2263"/>
<line x1="148.44" y1="458.32" x2="148.44" y2="463.67" stroke="#1a1a1a" stroke-width="1.2"/>
<line x1="146.74" y1="458.82" x2="150.14" y2="458.82" stroke="#1a1a1a" stroke-width="1.1"/>
<rect x="153.52" y="457.84" width="5.20" height="23.76" fill="#4e2263"/>
<line x1="156.12" y1="454.44" x2="156.12" y2="458.34" stroke="#1a1a1a" stroke-width="1.2"/>
<line x1="154.42" y1="454.94" x2="157.82" y2="454.94" stroke="#1a1a1a" stroke-width="1.1"/>
<rect x="161.20" y="469.18" width="5.20" height="12.42" fill="#4e2263"/>
<line x1="163.80" y1="467.24" x2="163.80" y2="469.68" stroke="#1a1a1a" stroke-width="1.2"/>
<line x1="162.10" y1="467.74" x2="165.50" y2="467.74" stroke="#1a1a1a" stroke-width="1.1"/>
<rect x="168.88" y="477.24" width="5.20" height="4.37" fill="#4e2263"/>
<line x1="171.48" y1="475.59" x2="171.48" y2="477.74" stroke="#1a1a1a" stroke-width="1.2"/>
<line x1="169.78" y1="476.09" x2="173.18" y2="476.09" stroke="#1a1a1a" stroke-width="1.1"/>
<rect x="176.56" y="480.63" width="5.20" height="0.97" fill="#4e2263"/>
<line x1="179.16" y1="480.24" x2="179.16" y2="481.13" stroke="#1a1a1a" stroke-width="1.2"/>
<line x1="177.46" y1="480.74" x2="180.86" y2="480.74" stroke="#1a1a1a" stroke-width="1.1"/>
<line x1="121.60" y1="400.60" x2="121.60" y2="482.20" stroke="#1a1a1a" stroke-width="1.5"/>
<line x1="120.90" y1="481.60" x2="183.90" y2="481.60" stroke="#1a1a1a" stroke-width="1.5"/>
<line x1="118.60" y1="481.60" x2="121.60" y2="481.60" stroke="#1a1a1a" stroke-width="1.3"/>
<text x="115.40" y="484.68" font-size="6.9" text-anchor="end" font-weight="normal" >0</text>
<line x1="118.60" y1="462.20" x2="121.60" y2="462.20" stroke="#1a1a1a" stroke-width="1.3"/>
<text x="115.40" y="465.28" font-size="6.9" text-anchor="end" font-weight="normal" >200</text>
<line x1="118.60" y1="442.80" x2="121.60" y2="442.80" stroke="#1a1a1a" stroke-width="1.3"/>
<text x="115.40" y="445.88" font-size="6.9" text-anchor="end" font-weight="normal" >400</text>
<line x1="118.60" y1="423.40" x2="121.60" y2="423.40" stroke="#1a1a1a" stroke-width="1.3"/>
<text x="115.40" y="426.48" font-size="6.9" text-anchor="end" font-weight="normal" >600</text>
<line x1="118.60" y1="404.00" x2="121.60" y2="404.00" stroke="#1a1a1a" stroke-width="1.3"/>
<text x="115.40" y="407.08" font-size="6.9" text-anchor="end" font-weight="normal" >800</text>
<text x="0" y="0" font-size="6.3" text-anchor="end" style="stroke-width:0.16px" transform="translate(127.67,485.20) rotate(-90)">C</text>
<text x="0" y="0" font-size="6.3" text-anchor="end" style="stroke-width:0.16px" transform="translate(135.35,485.20) rotate(-90)">H</text>
<text x="0" y="0" font-size="6.3" text-anchor="end" style="stroke-width:0.16px" transform="translate(143.03,485.20) rotate(-90)">R</text>
<text x="0" y="0" font-size="6.3" text-anchor="end" style="stroke-width:0.16px" transform="translate(150.71,485.20) rotate(-90)">O</text>
<text x="0" y="0" font-size="6.3" text-anchor="end" style="stroke-width:0.16px" transform="translate(158.39,485.20) rotate(-90)">HR</text>
<text x="0" y="0" font-size="6.3" text-anchor="end" style="stroke-width:0.16px" transform="translate(166.07,485.20) rotate(-90)">HO</text>
<text x="0" y="0" font-size="6.3" text-anchor="end" style="stroke-width:0.16px" transform="translate(173.75,485.20) rotate(-90)">RO</text>
<text x="0" y="0" font-size="6.3" text-anchor="end" style="stroke-width:0.16px" transform="translate(181.43,485.20) rotate(-90)">HRO</text>
<text x="121.20" y="394.60" font-size="8.6" text-anchor="start" font-weight="normal" textLength="64.60" lengthAdjust="spacingAndGlyphs"  style="stroke-width:0.1px">ET/PMF BT74-G</text>
<rect x="205.30" y="410.16" width="5.20" height="71.44" fill="#4e2263"/>
<line x1="207.90" y1="404.06" x2="207.90" y2="410.66" stroke="#1a1a1a" stroke-width="1.2"/>
<line x1="206.20" y1="404.56" x2="209.60" y2="404.56" stroke="#1a1a1a" stroke-width="1.1"/>
<rect x="212.98" y="451.98" width="5.20" height="29.62" fill="#4e2263"/>
<line x1="215.58" y1="447.62" x2="215.58" y2="452.48" stroke="#1a1a1a" stroke-width="1.2"/>
<line x1="213.88" y1="448.12" x2="217.28" y2="448.12" stroke="#1a1a1a" stroke-width="1.1"/>
<rect x="220.66" y="443.26" width="5.20" height="38.34" fill="#4e2263"/>
<line x1="223.26" y1="436.30" x2="223.26" y2="443.76" stroke="#1a1a1a" stroke-width="1.2"/>
<line x1="221.56" y1="436.80" x2="224.96" y2="436.80" stroke="#1a1a1a" stroke-width="1.1"/>
<rect x="228.34" y="455.46" width="5.20" height="26.14" fill="#4e2263"/>
<line x1="230.94" y1="451.98" x2="230.94" y2="455.96" stroke="#1a1a1a" stroke-width="1.2"/>
<line x1="229.24" y1="452.48" x2="232.64" y2="452.48" stroke="#1a1a1a" stroke-width="1.1"/>
<rect x="236.02" y="461.56" width="5.20" height="20.04" fill="#4e2263"/>
<line x1="238.62" y1="459.38" x2="238.62" y2="462.06" stroke="#1a1a1a" stroke-width="1.2"/>
<line x1="236.92" y1="459.88" x2="240.32" y2="459.88" stroke="#1a1a1a" stroke-width="1.1"/>
<rect x="243.70" y="461.56" width="5.20" height="20.04" fill="#4e2263"/>
<line x1="246.30" y1="459.82" x2="246.30" y2="462.06" stroke="#1a1a1a" stroke-width="1.2"/>
<line x1="244.60" y1="460.32" x2="248.00" y2="460.32" stroke="#1a1a1a" stroke-width="1.1"/>
<rect x="251.38" y="468.53" width="5.20" height="13.07" fill="#4e2263"/>
<line x1="253.98" y1="465.92" x2="253.98" y2="469.03" stroke="#1a1a1a" stroke-width="1.2"/>
<line x1="252.28" y1="466.42" x2="255.68" y2="466.42" stroke="#1a1a1a" stroke-width="1.1"/>
<rect x="259.06" y="476.37" width="5.20" height="5.23" fill="#4e2263"/>
<line x1="261.66" y1="474.63" x2="261.66" y2="476.87" stroke="#1a1a1a" stroke-width="1.2"/>
<line x1="259.96" y1="475.13" x2="263.36" y2="475.13" stroke="#1a1a1a" stroke-width="1.1"/>
<line x1="204.10" y1="403.60" x2="204.10" y2="482.20" stroke="#1a1a1a" stroke-width="1.5"/>
<line x1="203.40" y1="481.60" x2="264.00" y2="481.60" stroke="#1a1a1a" stroke-width="1.5"/>
<line x1="201.10" y1="481.60" x2="204.10" y2="481.60" stroke="#1a1a1a" stroke-width="1.3"/>
<text x="197.90" y="484.68" font-size="6.9" text-anchor="end" font-weight="normal" >0</text>
<line x1="201.10" y1="464.18" x2="204.10" y2="464.18" stroke="#1a1a1a" stroke-width="1.3"/>
<text x="197.90" y="467.26" font-size="6.9" text-anchor="end" font-weight="normal" >20</text>
<line x1="201.10" y1="446.75" x2="204.10" y2="446.75" stroke="#1a1a1a" stroke-width="1.3"/>
<text x="197.90" y="449.83" font-size="6.9" text-anchor="end" font-weight="normal" >40</text>
<line x1="201.10" y1="429.32" x2="204.10" y2="429.32" stroke="#1a1a1a" stroke-width="1.3"/>
<text x="197.90" y="432.41" font-size="6.9" text-anchor="end" font-weight="normal" >60</text>
<line x1="201.10" y1="411.90" x2="204.10" y2="411.90" stroke="#1a1a1a" stroke-width="1.3"/>
<text x="197.90" y="414.98" font-size="6.9" text-anchor="end" font-weight="normal" >80</text>
<text x="0" y="0" font-size="6.3" text-anchor="end" style="stroke-width:0.16px" transform="translate(210.17,485.20) rotate(-90)">C</text>
<text x="0" y="0" font-size="6.3" text-anchor="end" style="stroke-width:0.16px" transform="translate(217.85,485.20) rotate(-90)">H</text>
<text x="0" y="0" font-size="6.3" text-anchor="end" style="stroke-width:0.16px" transform="translate(225.53,485.20) rotate(-90)">R</text>
<text x="0" y="0" font-size="6.3" text-anchor="end" style="stroke-width:0.16px" transform="translate(233.21,485.20) rotate(-90)">O</text>
<text x="0" y="0" font-size="6.3" text-anchor="end" style="stroke-width:0.16px" transform="translate(240.89,485.20) rotate(-90)">HR</text>
<text x="0" y="0" font-size="6.3" text-anchor="end" style="stroke-width:0.16px" transform="translate(248.57,485.20) rotate(-90)">HO</text>
<text x="0" y="0" font-size="6.3" text-anchor="end" style="stroke-width:0.16px" transform="translate(256.25,485.20) rotate(-90)">RO</text>
<text x="0" y="0" font-size="6.3" text-anchor="end" style="stroke-width:0.16px" transform="translate(263.93,485.20) rotate(-90)">HRO</text>
<text x="212.60" y="394.60" font-size="8.6" text-anchor="start" font-weight="normal" textLength="46.10" lengthAdjust="spacingAndGlyphs"  style="stroke-width:0.1px">ET MB76-G</text>
<rect x="287.90" y="419.91" width="5.20" height="61.69" fill="#4e2263"/>
<line x1="290.50" y1="406.69" x2="290.50" y2="420.41" stroke="#1a1a1a" stroke-width="1.2"/>
<line x1="288.80" y1="407.19" x2="292.20" y2="407.19" stroke="#1a1a1a" stroke-width="1.1"/>
<rect x="295.58" y="450.75" width="5.20" height="30.85" fill="#4e2263"/>
<line x1="298.18" y1="444.14" x2="298.18" y2="451.25" stroke="#1a1a1a" stroke-width="1.2"/>
<line x1="296.48" y1="444.64" x2="299.88" y2="444.64" stroke="#1a1a1a" stroke-width="1.1"/>
<rect x="303.26" y="447.45" width="5.20" height="34.15" fill="#4e2263"/>
<line x1="305.86" y1="437.53" x2="305.86" y2="447.95" stroke="#1a1a1a" stroke-width="1.2"/>
<line x1="304.16" y1="438.03" x2="307.56" y2="438.03" stroke="#1a1a1a" stroke-width="1.1"/>
<rect x="310.94" y="456.26" width="5.20" height="25.34" fill="#4e2263"/>
<line x1="313.54" y1="452.96" x2="313.54" y2="456.76" stroke="#1a1a1a" stroke-width="1.2"/>
<line x1="311.84" y1="453.46" x2="315.24" y2="453.46" stroke="#1a1a1a" stroke-width="1.1"/>
<rect x="318.62" y="460.67" width="5.20" height="20.93" fill="#4e2263"/>
<line x1="321.22" y1="459.57" x2="321.22" y2="461.17" stroke="#1a1a1a" stroke-width="1.2"/>
<line x1="319.52" y1="460.07" x2="322.92" y2="460.07" stroke="#1a1a1a" stroke-width="1.1"/>
<rect x="326.30" y="461.22" width="5.20" height="20.38" fill="#4e2263"/>
<line x1="328.90" y1="457.36" x2="328.90" y2="461.72" stroke="#1a1a1a" stroke-width="1.2"/>
<line x1="327.20" y1="457.86" x2="330.60" y2="457.86" stroke="#1a1a1a" stroke-width="1.1"/>
<rect x="333.98" y="467.28" width="5.20" height="14.32" fill="#4e2263"/>
<line x1="336.58" y1="465.08" x2="336.58" y2="467.78" stroke="#1a1a1a" stroke-width="1.2"/>
<line x1="334.88" y1="465.58" x2="338.28" y2="465.58" stroke="#1a1a1a" stroke-width="1.1"/>
<rect x="341.66" y="478.30" width="5.20" height="3.31" fill="#4e2263"/>
<line x1="344.26" y1="476.09" x2="344.26" y2="478.80" stroke="#1a1a1a" stroke-width="1.2"/>
<line x1="342.56" y1="476.59" x2="345.96" y2="476.59" stroke="#1a1a1a" stroke-width="1.1"/>
<line x1="286.70" y1="404.60" x2="286.70" y2="482.20" stroke="#1a1a1a" stroke-width="1.5"/>
<line x1="286.00" y1="481.60" x2="349.00" y2="481.60" stroke="#1a1a1a" stroke-width="1.5"/>
<line x1="283.70" y1="481.60" x2="286.70" y2="481.60" stroke="#1a1a1a" stroke-width="1.3"/>
<text x="280.50" y="484.68" font-size="6.9" text-anchor="end" font-weight="normal" >0</text>
<line x1="283.70" y1="459.57" x2="286.70" y2="459.57" stroke="#1a1a1a" stroke-width="1.3"/>
<text x="280.50" y="462.65" font-size="6.9" text-anchor="end" font-weight="normal" >20</text>
<line x1="283.70" y1="437.53" x2="286.70" y2="437.53" stroke="#1a1a1a" stroke-width="1.3"/>
<text x="280.50" y="440.62" font-size="6.9" text-anchor="end" font-weight="normal" >40</text>
<line x1="283.70" y1="415.50" x2="286.70" y2="415.50" stroke="#1a1a1a" stroke-width="1.3"/>
<text x="280.50" y="418.58" font-size="6.9" text-anchor="end" font-weight="normal" >60</text>
<text x="0" y="0" font-size="6.3" text-anchor="end" style="stroke-width:0.16px" transform="translate(292.77,485.20) rotate(-90)">C</text>
<text x="0" y="0" font-size="6.3" text-anchor="end" style="stroke-width:0.16px" transform="translate(300.45,485.20) rotate(-90)">H</text>
<text x="0" y="0" font-size="6.3" text-anchor="end" style="stroke-width:0.16px" transform="translate(308.13,485.20) rotate(-90)">R</text>
<text x="0" y="0" font-size="6.3" text-anchor="end" style="stroke-width:0.16px" transform="translate(315.81,485.20) rotate(-90)">O</text>
<text x="0" y="0" font-size="6.3" text-anchor="end" style="stroke-width:0.16px" transform="translate(323.49,485.20) rotate(-90)">HR</text>
<text x="0" y="0" font-size="6.3" text-anchor="end" style="stroke-width:0.16px" transform="translate(331.17,485.20) rotate(-90)">HO</text>
<text x="0" y="0" font-size="6.3" text-anchor="end" style="stroke-width:0.16px" transform="translate(338.85,485.20) rotate(-90)">RO</text>
<text x="0" y="0" font-size="6.3" text-anchor="end" style="stroke-width:0.16px" transform="translate(346.53,485.20) rotate(-90)">HRO</text>
<text x="291.10" y="394.60" font-size="8.6" text-anchor="start" font-weight="normal" textLength="53.90" lengthAdjust="spacingAndGlyphs"  style="stroke-width:0.1px">ET BA7621-G</text>
<rect x="375.30" y="416.29" width="5.20" height="65.31" fill="#4e2263"/>
<line x1="377.90" y1="405.29" x2="377.90" y2="416.79" stroke="#1a1a1a" stroke-width="1.2"/>
<line x1="376.20" y1="405.79" x2="379.60" y2="405.79" stroke="#1a1a1a" stroke-width="1.1"/>
<rect x="382.98" y="446.03" width="5.20" height="35.57" fill="#4e2263"/>
<line x1="385.58" y1="439.57" x2="385.58" y2="446.53" stroke="#1a1a1a" stroke-width="1.2"/>
<line x1="383.88" y1="440.07" x2="387.28" y2="440.07" stroke="#1a1a1a" stroke-width="1.1"/>
<rect x="390.66" y="441.51" width="5.20" height="40.09" fill="#4e2263"/>
<line x1="393.26" y1="436.33" x2="393.26" y2="442.01" stroke="#1a1a1a" stroke-width="1.2"/>
<line x1="391.56" y1="436.83" x2="394.96" y2="436.83" stroke="#1a1a1a" stroke-width="1.1"/>
<rect x="398.34" y="437.63" width="5.20" height="43.97" fill="#4e2263"/>
<line x1="400.94" y1="430.51" x2="400.94" y2="438.13" stroke="#1a1a1a" stroke-width="1.2"/>
<line x1="399.24" y1="431.01" x2="402.64" y2="431.01" stroke="#1a1a1a" stroke-width="1.1"/>
<rect x="406.02" y="448.62" width="5.20" height="32.98" fill="#4e2263"/>
<line x1="408.62" y1="446.03" x2="408.62" y2="449.12" stroke="#1a1a1a" stroke-width="1.2"/>
<line x1="406.92" y1="446.53" x2="410.32" y2="446.53" stroke="#1a1a1a" stroke-width="1.1"/>
<rect x="413.70" y="447.33" width="5.20" height="34.27" fill="#4e2263"/>
<line x1="416.30" y1="441.51" x2="416.30" y2="447.83" stroke="#1a1a1a" stroke-width="1.2"/>
<line x1="414.60" y1="442.01" x2="418.00" y2="442.01" stroke="#1a1a1a" stroke-width="1.1"/>
<rect x="421.38" y="458.97" width="5.20" height="22.63" fill="#4e2263"/>
<line x1="423.98" y1="457.67" x2="423.98" y2="459.47" stroke="#1a1a1a" stroke-width="1.2"/>
<line x1="422.28" y1="458.17" x2="425.68" y2="458.17" stroke="#1a1a1a" stroke-width="1.1"/>
<rect x="429.06" y="470.28" width="5.20" height="11.32" fill="#4e2263"/>
<line x1="431.66" y1="467.37" x2="431.66" y2="470.78" stroke="#1a1a1a" stroke-width="1.2"/>
<line x1="429.96" y1="467.87" x2="433.36" y2="467.87" stroke="#1a1a1a" stroke-width="1.1"/>
<line x1="374.10" y1="400.60" x2="374.10" y2="482.20" stroke="#1a1a1a" stroke-width="1.5"/>
<line x1="373.40" y1="481.60" x2="434.60" y2="481.60" stroke="#1a1a1a" stroke-width="1.5"/>
<line x1="371.10" y1="481.60" x2="374.10" y2="481.60" stroke="#1a1a1a" stroke-width="1.3"/>
<text x="367.90" y="484.68" font-size="6.9" text-anchor="end" font-weight="normal" >0</text>
<line x1="371.10" y1="468.67" x2="374.10" y2="468.67" stroke="#1a1a1a" stroke-width="1.3"/>
<text x="367.90" y="471.75" font-size="6.9" text-anchor="end" font-weight="normal" >20</text>
<line x1="371.10" y1="455.73" x2="374.10" y2="455.73" stroke="#1a1a1a" stroke-width="1.3"/>
<text x="367.90" y="458.82" font-size="6.9" text-anchor="end" font-weight="normal" >40</text>
<line x1="371.10" y1="442.80" x2="374.10" y2="442.80" stroke="#1a1a1a" stroke-width="1.3"/>
<text x="367.90" y="445.88" font-size="6.9" text-anchor="end" font-weight="normal" >60</text>
<line x1="371.10" y1="429.87" x2="374.10" y2="429.87" stroke="#1a1a1a" stroke-width="1.3"/>
<text x="367.90" y="432.95" font-size="6.9" text-anchor="end" font-weight="normal" >80</text>
<line x1="371.10" y1="416.93" x2="374.10" y2="416.93" stroke="#1a1a1a" stroke-width="1.3"/>
<text x="367.90" y="420.02" font-size="6.9" text-anchor="end" font-weight="normal" >100</text>
<line x1="371.10" y1="404.00" x2="374.10" y2="404.00" stroke="#1a1a1a" stroke-width="1.3"/>
<text x="367.90" y="407.08" font-size="6.9" text-anchor="end" font-weight="normal" >120</text>
<text x="0" y="0" font-size="6.3" text-anchor="end" style="stroke-width:0.16px" transform="translate(380.17,485.20) rotate(-90)">C</text>
<text x="0" y="0" font-size="6.3" text-anchor="end" style="stroke-width:0.16px" transform="translate(387.85,485.20) rotate(-90)">H</text>
<text x="0" y="0" font-size="6.3" text-anchor="end" style="stroke-width:0.16px" transform="translate(395.53,485.20) rotate(-90)">R</text>
<text x="0" y="0" font-size="6.3" text-anchor="end" style="stroke-width:0.16px" transform="translate(403.21,485.20) rotate(-90)">O</text>
<text x="0" y="0" font-size="6.3" text-anchor="end" style="stroke-width:0.16px" transform="translate(410.89,485.20) rotate(-90)">HR</text>
<text x="0" y="0" font-size="6.3" text-anchor="end" style="stroke-width:0.16px" transform="translate(418.57,485.20) rotate(-90)">HO</text>
<text x="0" y="0" font-size="6.3" text-anchor="end" style="stroke-width:0.16px" transform="translate(426.25,485.20) rotate(-90)">RO</text>
<text x="0" y="0" font-size="6.3" text-anchor="end" style="stroke-width:0.16px" transform="translate(433.93,485.20) rotate(-90)">HRO</text>
<text x="378.70" y="394.60" font-size="8.6" text-anchor="start" font-weight="normal" textLength="53.30" lengthAdjust="spacingAndGlyphs"  style="stroke-width:0.1px">ET RB3382-G</text>
<rect x="43.65" y="533.75" width="6.80" height="72.55" fill="#4b5366"/>
<rect x="54.60" y="573.65" width="6.80" height="32.65" fill="#4b5366"/>
<line x1="58.00" y1="565.67" x2="58.00" y2="574.15" stroke="#1a1a1a" stroke-width="1.2"/>
<line x1="56.30" y1="566.17" x2="59.70" y2="566.17" stroke="#1a1a1a" stroke-width="1.1"/>
<rect x="65.55" y="575.10" width="6.80" height="31.20" fill="#4b5366"/>
<line x1="68.95" y1="564.22" x2="68.95" y2="575.60" stroke="#1a1a1a" stroke-width="1.2"/>
<line x1="67.25" y1="564.72" x2="70.65" y2="564.72" stroke="#1a1a1a" stroke-width="1.1"/>
<rect x="76.50" y="588.89" width="6.80" height="17.41" fill="#4b5366"/>
<line x1="79.90" y1="583.08" x2="79.90" y2="589.39" stroke="#1a1a1a" stroke-width="1.2"/>
<line x1="78.20" y1="583.58" x2="81.60" y2="583.58" stroke="#1a1a1a" stroke-width="1.1"/>
<rect x="87.45" y="585.26" width="6.80" height="21.04" fill="#4b5366"/>
<line x1="90.85" y1="577.28" x2="90.85" y2="585.76" stroke="#1a1a1a" stroke-width="1.2"/>
<line x1="89.15" y1="577.78" x2="92.55" y2="577.78" stroke="#1a1a1a" stroke-width="1.1"/>
<rect x="98.40" y="596.14" width="6.80" height="10.16" fill="#4b5366"/>
<line x1="101.80" y1="588.89" x2="101.80" y2="596.64" stroke="#1a1a1a" stroke-width="1.2"/>
<line x1="100.10" y1="589.39" x2="103.50" y2="589.39" stroke="#1a1a1a" stroke-width="1.1"/>
<rect x="109.35" y="596.87" width="6.80" height="9.43" fill="#4b5366"/>
<line x1="112.75" y1="591.06" x2="112.75" y2="597.37" stroke="#1a1a1a" stroke-width="1.2"/>
<line x1="111.05" y1="591.56" x2="114.45" y2="591.56" stroke="#1a1a1a" stroke-width="1.1"/>
<circle cx="112.75" cy="586.06" r="1.0" fill="#1a1a1a"/>
<rect x="120.30" y="603.76" width="6.80" height="2.54" fill="#4b5366"/>
<line x1="123.70" y1="601.22" x2="123.70" y2="604.26" stroke="#1a1a1a" stroke-width="1.2"/>
<line x1="122.00" y1="601.72" x2="125.40" y2="601.72" stroke="#1a1a1a" stroke-width="1.1"/>
<circle cx="122.00" cy="596.22" r="1.0" fill="#1a1a1a"/>
<circle cx="125.40" cy="596.22" r="1.0" fill="#1a1a1a"/>
<line x1="36.75" y1="531.30" x2="36.75" y2="606.90" stroke="#1a1a1a" stroke-width="1.5"/>
<line x1="36.05" y1="606.30" x2="135.00" y2="606.30" stroke="#1a1a1a" stroke-width="1.5"/>
<line x1="33.75" y1="606.30" x2="36.75" y2="606.30" stroke="#1a1a1a" stroke-width="1.3"/>
<text x="30.55" y="609.38" font-size="6.9" text-anchor="end" font-weight="normal" >0</text>
<line x1="33.75" y1="591.79" x2="36.75" y2="591.79" stroke="#1a1a1a" stroke-width="1.3"/>
<text x="30.55" y="594.87" font-size="6.9" text-anchor="end" font-weight="normal" >20</text>
<line x1="33.75" y1="577.28" x2="36.75" y2="577.28" stroke="#1a1a1a" stroke-width="1.3"/>
<text x="30.55" y="580.36" font-size="6.9" text-anchor="end" font-weight="normal" >40</text>
<line x1="33.75" y1="562.77" x2="36.75" y2="562.77" stroke="#1a1a1a" stroke-width="1.3"/>
<text x="30.55" y="565.85" font-size="6.9" text-anchor="end" font-weight="normal" >60</text>
<line x1="33.75" y1="548.26" x2="36.75" y2="548.26" stroke="#1a1a1a" stroke-width="1.3"/>
<text x="30.55" y="551.34" font-size="6.9" text-anchor="end" font-weight="normal" >80</text>
<line x1="33.75" y1="533.75" x2="36.75" y2="533.75" stroke="#1a1a1a" stroke-width="1.3"/>
<text x="30.55" y="536.83" font-size="6.9" text-anchor="end" font-weight="normal" >100</text>
<text x="0" y="0" font-size="6.3" text-anchor="end" style="stroke-width:0.16px" transform="translate(49.32,610.30) rotate(-90)">C</text>
<text x="0" y="0" font-size="6.3" text-anchor="end" style="stroke-width:0.16px" transform="translate(60.27,610.30) rotate(-90)">H</text>
<text x="0" y="0" font-size="6.3" text-anchor="end" style="stroke-width:0.16px" transform="translate(71.22,610.30) rotate(-90)">R</text>
<text x="0" y="0" font-size="6.3" text-anchor="end" style="stroke-width:0.16px" transform="translate(82.17,610.30) rotate(-90)">O</text>
<text x="0" y="0" font-size="6.3" text-anchor="end" style="stroke-width:0.16px" transform="translate(93.12,610.30) rotate(-90)">HR</text>
<text x="0" y="0" font-size="6.3" text-anchor="end" style="stroke-width:0.16px" transform="translate(104.07,610.30) rotate(-90)">HO</text>
<text x="0" y="0" font-size="6.3" text-anchor="end" style="stroke-width:0.16px" transform="translate(115.02,610.30) rotate(-90)">RO</text>
<text x="0" y="0" font-size="6.3" text-anchor="end" style="stroke-width:0.16px" transform="translate(125.97,610.30) rotate(-90)">HRO</text>
<rect x="165.70" y="533.75" width="6.80" height="72.55" fill="#4b5366"/>
<rect x="176.65" y="571.48" width="6.80" height="34.82" fill="#4b5366"/>
<line x1="180.05" y1="569.30" x2="180.05" y2="571.98" stroke="#1a1a1a" stroke-width="1.2"/>
<line x1="178.35" y1="569.80" x2="181.75" y2="569.80" stroke="#1a1a1a" stroke-width="1.1"/>
<rect x="187.60" y="581.63" width="6.80" height="24.67" fill="#4b5366"/>
<line x1="191.00" y1="573.65" x2="191.00" y2="582.13" stroke="#1a1a1a" stroke-width="1.2"/>
<line x1="189.30" y1="574.15" x2="192.70" y2="574.15" stroke="#1a1a1a" stroke-width="1.1"/>
<rect x="198.55" y="564.95" width="6.80" height="41.35" fill="#4b5366"/>
<line x1="201.95" y1="553.34" x2="201.95" y2="565.45" stroke="#1a1a1a" stroke-width="1.2"/>
<line x1="200.25" y1="553.84" x2="203.65" y2="553.84" stroke="#1a1a1a" stroke-width="1.1"/>
<rect x="209.50" y="585.26" width="6.80" height="21.04" fill="#4b5366"/>
<line x1="212.90" y1="578.01" x2="212.90" y2="585.76" stroke="#1a1a1a" stroke-width="1.2"/>
<line x1="211.20" y1="578.51" x2="214.60" y2="578.51" stroke="#1a1a1a" stroke-width="1.1"/>
<rect x="220.45" y="591.79" width="6.80" height="14.51" fill="#4b5366"/>
<line x1="223.85" y1="577.28" x2="223.85" y2="592.29" stroke="#1a1a1a" stroke-width="1.2"/>
<line x1="222.15" y1="577.78" x2="225.55" y2="577.78" stroke="#1a1a1a" stroke-width="1.1"/>
<rect x="231.40" y="597.59" width="6.80" height="8.71" fill="#4b5366"/>
<line x1="234.80" y1="592.52" x2="234.80" y2="598.09" stroke="#1a1a1a" stroke-width="1.2"/>
<line x1="233.10" y1="593.02" x2="236.50" y2="593.02" stroke="#1a1a1a" stroke-width="1.1"/>
<circle cx="234.80" cy="587.52" r="1.0" fill="#1a1a1a"/>
<rect x="242.35" y="604.85" width="6.80" height="1.45" fill="#4b5366"/>
<line x1="245.75" y1="602.67" x2="245.75" y2="605.35" stroke="#1a1a1a" stroke-width="1.2"/>
<line x1="244.05" y1="603.17" x2="247.45" y2="603.17" stroke="#1a1a1a" stroke-width="1.1"/>
<circle cx="244.05" cy="597.67" r="1.0" fill="#1a1a1a"/>
<circle cx="247.45" cy="597.67" r="1.0" fill="#1a1a1a"/>
<line x1="158.50" y1="531.30" x2="158.50" y2="606.90" stroke="#1a1a1a" stroke-width="1.5"/>
<line x1="157.80" y1="606.30" x2="256.00" y2="606.30" stroke="#1a1a1a" stroke-width="1.5"/>
<line x1="155.50" y1="606.30" x2="158.50" y2="606.30" stroke="#1a1a1a" stroke-width="1.3"/>
<text x="152.30" y="609.38" font-size="6.9" text-anchor="end" font-weight="normal" >0</text>
<line x1="155.50" y1="591.79" x2="158.50" y2="591.79" stroke="#1a1a1a" stroke-width="1.3"/>
<text x="152.30" y="594.87" font-size="6.9" text-anchor="end" font-weight="normal" >20</text>
<line x1="155.50" y1="577.28" x2="158.50" y2="577.28" stroke="#1a1a1a" stroke-width="1.3"/>
<text x="152.30" y="580.36" font-size="6.9" text-anchor="end" font-weight="normal" >40</text>
<line x1="155.50" y1="562.77" x2="158.50" y2="562.77" stroke="#1a1a1a" stroke-width="1.3"/>
<text x="152.30" y="565.85" font-size="6.9" text-anchor="end" font-weight="normal" >60</text>
<line x1="155.50" y1="548.26" x2="158.50" y2="548.26" stroke="#1a1a1a" stroke-width="1.3"/>
<text x="152.30" y="551.34" font-size="6.9" text-anchor="end" font-weight="normal" >80</text>
<line x1="155.50" y1="533.75" x2="158.50" y2="533.75" stroke="#1a1a1a" stroke-width="1.3"/>
<text x="152.30" y="536.83" font-size="6.9" text-anchor="end" font-weight="normal" >100</text>
<text x="0" y="0" font-size="6.3" text-anchor="end" style="stroke-width:0.16px" transform="translate(171.37,610.30) rotate(-90)">C</text>
<text x="0" y="0" font-size="6.3" text-anchor="end" style="stroke-width:0.16px" transform="translate(182.32,610.30) rotate(-90)">H</text>
<text x="0" y="0" font-size="6.3" text-anchor="end" style="stroke-width:0.16px" transform="translate(193.27,610.30) rotate(-90)">R</text>
<text x="0" y="0" font-size="6.3" text-anchor="end" style="stroke-width:0.16px" transform="translate(204.22,610.30) rotate(-90)">O</text>
<text x="0" y="0" font-size="6.3" text-anchor="end" style="stroke-width:0.16px" transform="translate(215.17,610.30) rotate(-90)">HR</text>
<text x="0" y="0" font-size="6.3" text-anchor="end" style="stroke-width:0.16px" transform="translate(226.12,610.30) rotate(-90)">HO</text>
<text x="0" y="0" font-size="6.3" text-anchor="end" style="stroke-width:0.16px" transform="translate(237.07,610.30) rotate(-90)">RO</text>
<text x="0" y="0" font-size="6.3" text-anchor="end" style="stroke-width:0.16px" transform="translate(248.02,610.30) rotate(-90)">HRO</text>
<rect x="288.00" y="533.75" width="6.80" height="72.55" fill="#4b5366"/>
<rect x="298.95" y="572.20" width="6.80" height="34.10" fill="#4b5366"/>
<line x1="302.35" y1="568.57" x2="302.35" y2="572.70" stroke="#1a1a1a" stroke-width="1.2"/>
<line x1="300.65" y1="569.07" x2="304.05" y2="569.07" stroke="#1a1a1a" stroke-width="1.1"/>
<rect x="309.90" y="570.02" width="6.80" height="36.27" fill="#4b5366"/>
<line x1="313.30" y1="560.59" x2="313.30" y2="570.52" stroke="#1a1a1a" stroke-width="1.2"/>
<line x1="311.60" y1="561.09" x2="315.00" y2="561.09" stroke="#1a1a1a" stroke-width="1.1"/>
<rect x="320.85" y="554.79" width="6.80" height="51.51" fill="#4b5366"/>
<line x1="324.25" y1="543.18" x2="324.25" y2="555.29" stroke="#1a1a1a" stroke-width="1.2"/>
<line x1="322.55" y1="543.68" x2="325.95" y2="543.68" stroke="#1a1a1a" stroke-width="1.1"/>
<rect x="331.80" y="585.26" width="6.80" height="21.04" fill="#4b5366"/>
<line x1="335.20" y1="575.83" x2="335.20" y2="585.76" stroke="#1a1a1a" stroke-width="1.2"/>
<line x1="333.50" y1="576.33" x2="336.90" y2="576.33" stroke="#1a1a1a" stroke-width="1.1"/>
<rect x="342.75" y="579.46" width="6.80" height="26.84" fill="#4b5366"/>
<line x1="346.15" y1="571.48" x2="346.15" y2="579.96" stroke="#1a1a1a" stroke-width="1.2"/>
<line x1="344.45" y1="571.98" x2="347.85" y2="571.98" stroke="#1a1a1a" stroke-width="1.1"/>
<rect x="353.70" y="583.81" width="6.80" height="22.49" fill="#4b5366"/>
<line x1="357.10" y1="576.55" x2="357.10" y2="584.31" stroke="#1a1a1a" stroke-width="1.2"/>
<line x1="355.40" y1="577.05" x2="358.80" y2="577.05" stroke="#1a1a1a" stroke-width="1.1"/>
<circle cx="357.10" cy="571.55" r="1.0" fill="#1a1a1a"/>
<rect x="364.65" y="591.06" width="6.80" height="15.24" fill="#4b5366"/>
<line x1="368.05" y1="587.44" x2="368.05" y2="591.56" stroke="#1a1a1a" stroke-width="1.2"/>
<line x1="366.35" y1="587.94" x2="369.75" y2="587.94" stroke="#1a1a1a" stroke-width="1.1"/>
<line x1="280.60" y1="531.30" x2="280.60" y2="606.90" stroke="#1a1a1a" stroke-width="1.5"/>
<line x1="279.90" y1="606.30" x2="378.60" y2="606.30" stroke="#1a1a1a" stroke-width="1.5"/>
<line x1="277.60" y1="606.30" x2="280.60" y2="606.30" stroke="#1a1a1a" stroke-width="1.3"/>
<text x="274.40" y="609.38" font-size="6.9" text-anchor="end" font-weight="normal" >0</text>
<line x1="277.60" y1="591.79" x2="280.60" y2="591.79" stroke="#1a1a1a" stroke-width="1.3"/>
<text x="274.40" y="594.87" font-size="6.9" text-anchor="end" font-weight="normal" >20</text>
<line x1="277.60" y1="577.28" x2="280.60" y2="577.28" stroke="#1a1a1a" stroke-width="1.3"/>
<text x="274.40" y="580.36" font-size="6.9" text-anchor="end" font-weight="normal" >40</text>
<line x1="277.60" y1="562.77" x2="280.60" y2="562.77" stroke="#1a1a1a" stroke-width="1.3"/>
<text x="274.40" y="565.85" font-size="6.9" text-anchor="end" font-weight="normal" >60</text>
<line x1="277.60" y1="548.26" x2="280.60" y2="548.26" stroke="#1a1a1a" stroke-width="1.3"/>
<text x="274.40" y="551.34" font-size="6.9" text-anchor="end" font-weight="normal" >80</text>
<line x1="277.60" y1="533.75" x2="280.60" y2="533.75" stroke="#1a1a1a" stroke-width="1.3"/>
<text x="274.40" y="536.83" font-size="6.9" text-anchor="end" font-weight="normal" >100</text>
<text x="0" y="0" font-size="6.3" text-anchor="end" style="stroke-width:0.16px" transform="translate(293.67,610.30) rotate(-90)">C</text>
<text x="0" y="0" font-size="6.3" text-anchor="end" style="stroke-width:0.16px" transform="translate(304.62,610.30) rotate(-90)">H</text>
<text x="0" y="0" font-size="6.3" text-anchor="end" style="stroke-width:0.16px" transform="translate(315.57,610.30) rotate(-90)">R</text>
<text x="0" y="0" font-size="6.3" text-anchor="end" style="stroke-width:0.16px" transform="translate(326.52,610.30) rotate(-90)">O</text>
<text x="0" y="0" font-size="6.3" text-anchor="end" style="stroke-width:0.16px" transform="translate(337.47,610.30) rotate(-90)">HR</text>
<text x="0" y="0" font-size="6.3" text-anchor="end" style="stroke-width:0.16px" transform="translate(348.42,610.30) rotate(-90)">HO</text>
<text x="0" y="0" font-size="6.3" text-anchor="end" style="stroke-width:0.16px" transform="translate(359.37,610.30) rotate(-90)">RO</text>
<text x="0" y="0" font-size="6.3" text-anchor="end" style="stroke-width:0.16px" transform="translate(370.32,610.30) rotate(-90)">HRO</text>
<rect x="410.00" y="533.75" width="6.80" height="72.55" fill="#c3c3c3"/>
<rect x="420.95" y="551.89" width="6.80" height="54.41" fill="#c3c3c3"/>
<line x1="424.35" y1="550.44" x2="424.35" y2="552.39" stroke="#1a1a1a" stroke-width="1.2"/>
<line x1="422.65" y1="550.94" x2="426.05" y2="550.94" stroke="#1a1a1a" stroke-width="1.1"/>
<rect x="431.90" y="556.24" width="6.80" height="50.06" fill="#c3c3c3"/>
<line x1="435.30" y1="552.61" x2="435.30" y2="556.74" stroke="#1a1a1a" stroke-width="1.2"/>
<line x1="433.60" y1="553.11" x2="437.00" y2="553.11" stroke="#1a1a1a" stroke-width="1.1"/>
<rect x="442.85" y="555.51" width="6.80" height="50.78" fill="#c3c3c3"/>
<line x1="446.25" y1="554.79" x2="446.25" y2="556.01" stroke="#1a1a1a" stroke-width="1.2"/>
<line x1="444.55" y1="555.29" x2="447.95" y2="555.29" stroke="#1a1a1a" stroke-width="1.1"/>
<rect x="453.80" y="578.73" width="6.80" height="27.57" fill="#c3c3c3"/>
<line x1="457.20" y1="577.28" x2="457.20" y2="579.23" stroke="#1a1a1a" stroke-width="1.2"/>
<line x1="455.50" y1="577.78" x2="458.90" y2="577.78" stroke="#1a1a1a" stroke-width="1.1"/>
<rect x="464.75" y="578.01" width="6.80" height="28.29" fill="#c3c3c3"/>
<line x1="468.15" y1="577.28" x2="468.15" y2="578.51" stroke="#1a1a1a" stroke-width="1.2"/>
<line x1="466.45" y1="577.78" x2="469.85" y2="577.78" stroke="#1a1a1a" stroke-width="1.1"/>
<rect x="475.70" y="579.46" width="6.80" height="26.84" fill="#c3c3c3"/>
<line x1="479.10" y1="578.01" x2="479.10" y2="579.96" stroke="#1a1a1a" stroke-width="1.2"/>
<line x1="477.40" y1="578.51" x2="480.80" y2="578.51" stroke="#1a1a1a" stroke-width="1.1"/>
<circle cx="479.10" cy="573.01" r="1.0" fill="#1a1a1a"/>
<rect x="486.65" y="591.06" width="6.80" height="15.24" fill="#c3c3c3"/>
<line x1="490.05" y1="590.34" x2="490.05" y2="591.56" stroke="#1a1a1a" stroke-width="1.2"/>
<line x1="488.35" y1="590.84" x2="491.75" y2="590.84" stroke="#1a1a1a" stroke-width="1.1"/>
<circle cx="488.35" cy="585.34" r="1.0" fill="#1a1a1a"/>
<circle cx="491.75" cy="585.34" r="1.0" fill="#1a1a1a"/>
<line x1="402.00" y1="531.30" x2="402.00" y2="606.90" stroke="#1a1a1a" stroke-width="1.5"/>
<line x1="401.30" y1="606.30" x2="500.30" y2="606.30" stroke="#1a1a1a" stroke-width="1.5"/>
<line x1="399.00" y1="606.30" x2="402.00" y2="606.30" stroke="#1a1a1a" stroke-width="1.3"/>
<text x="395.80" y="609.38" font-size="6.9" text-anchor="end" font-weight="normal" >0</text>
<line x1="399.00" y1="591.79" x2="402.00" y2="591.79" stroke="#1a1a1a" stroke-width="1.3"/>
<text x="395.80" y="594.87" font-size="6.9" text-anchor="end" font-weight="normal" >20</text>
<line x1="399.00" y1="577.28" x2="402.00" y2="577.28" stroke="#1a1a1a" stroke-width="1.3"/>
<text x="395.80" y="580.36" font-size="6.9" text-anchor="end" font-weight="normal" >40</text>
<line x1="399.00" y1="562.77" x2="402.00" y2="562.77" stroke="#1a1a1a" stroke-width="1.3"/>
<text x="395.80" y="565.85" font-size="6.9" text-anchor="end" font-weight="normal" >60</text>
<line x1="399.00" y1="548.26" x2="402.00" y2="548.26" stroke="#1a1a1a" stroke-width="1.3"/>
<text x="395.80" y="551.34" font-size="6.9" text-anchor="end" font-weight="normal" >80</text>
<line x1="399.00" y1="533.75" x2="402.00" y2="533.75" stroke="#1a1a1a" stroke-width="1.3"/>
<text x="395.80" y="536.83" font-size="6.9" text-anchor="end" font-weight="normal" >100</text>
<text x="0" y="0" font-size="6.3" text-anchor="end" style="stroke-width:0.16px" transform="translate(415.67,610.30) rotate(-90)">C</text>
<text x="0" y="0" font-size="6.3" text-anchor="end" style="stroke-width:0.16px" transform="translate(426.62,610.30) rotate(-90)">H</text>
<text x="0" y="0" font-size="6.3" text-anchor="end" style="stroke-width:0.16px" transform="translate(437.57,610.30) rotate(-90)">R</text>
<text x="0" y="0" font-size="6.3" text-anchor="end" style="stroke-width:0.16px" transform="translate(448.52,610.30) rotate(-90)">O</text>
<text x="0" y="0" font-size="6.3" text-anchor="end" style="stroke-width:0.16px" transform="translate(459.47,610.30) rotate(-90)">HR</text>
<text x="0" y="0" font-size="6.3" text-anchor="end" style="stroke-width:0.16px" transform="translate(470.42,610.30) rotate(-90)">HO</text>
<text x="0" y="0" font-size="6.3" text-anchor="end" style="stroke-width:0.16px" transform="translate(481.37,610.30) rotate(-90)">RO</text>
<text x="0" y="0" font-size="6.3" text-anchor="end" style="stroke-width:0.16px" transform="translate(492.32,610.30) rotate(-90)">HRO</text>
<text x="7.60" y="16.50" font-size="10.7" text-anchor="start" font-weight="bold" >A</text>
<text x="7.60" y="266.00" font-size="10.7" text-anchor="start" font-weight="bold" >B</text>
<text x="7.20" y="394.00" font-size="10.7" text-anchor="start" font-weight="bold" >C</text>
<text x="8.20" y="525.90" font-size="10.7" text-anchor="start" font-weight="bold" >D</text>
<text x="0" y="0" font-size="8.0" text-anchor="middle" textLength="52.50" lengthAdjust="spacingAndGlyphs" transform="translate(14.00,65.00) rotate(-90)">Colony number</text>
<text x="0" y="0" font-size="8.0" text-anchor="middle" textLength="53.00" lengthAdjust="spacingAndGlyphs" transform="translate(17.30,183.70) rotate(-90)">Colony number</text>
<text x="0" y="0" font-size="8.0" text-anchor="middle" textLength="51.70" lengthAdjust="spacingAndGlyphs" transform="translate(17.20,310.20) rotate(-90)">Colony number</text>
<text x="0" y="0" font-size="8.0" text-anchor="middle" textLength="51.30" lengthAdjust="spacingAndGlyphs" transform="translate(14.00,440.70) rotate(-90)">Colony number</text>
<text x="0" y="0" font-size="8.0" text-anchor="middle" textLength="38.00" lengthAdjust="spacingAndGlyphs" transform="translate(13.80,568.50) rotate(-90)">% colonies</text>
<text x="101.90" y="537.60" font-size="5.4" text-anchor="start" font-weight="normal" textLength="25.50" lengthAdjust="spacingAndGlyphs" >OPTIMAL</text>
<line x1="115.00" y1="538.80" x2="115.00" y2="546.20" stroke="#1a1a1a" stroke-width="1.4"/>
<path d="M112.40,544.00 L117.60,544.00 L115.00,550.20 Z" fill="#1a1a1a"/>
<text x="119.50" y="546.40" font-size="5.4" text-anchor="start" font-weight="normal" >R</text>
<text x="101.90" y="556.40" font-size="5.4" text-anchor="start" font-weight="normal" textLength="25.50" lengthAdjust="spacingAndGlyphs" >OPTIMAL</text>
<text x="210.00" y="537.60" font-size="5.4" text-anchor="start" font-weight="normal" textLength="38.00" lengthAdjust="spacingAndGlyphs" >SUBOPTIMAL</text>
<line x1="229.50" y1="538.80" x2="229.50" y2="546.20" stroke="#1a1a1a" stroke-width="1.4"/>
<path d="M226.90,544.00 L232.10,544.00 L229.50,550.20 Z" fill="#1a1a1a"/>
<text x="233.80" y="546.40" font-size="5.4" text-anchor="start" font-weight="normal" >R</text>
<text x="215.50" y="556.40" font-size="5.4" text-anchor="start" font-weight="normal" textLength="26.50" lengthAdjust="spacingAndGlyphs" >OPTIMAL</text>
<text x="332.00" y="537.60" font-size="5.4" text-anchor="start" font-weight="normal" textLength="38.00" lengthAdjust="spacingAndGlyphs" >SUBOPTIMAL</text>
<line x1="350.80" y1="538.80" x2="350.80" y2="546.20" stroke="#1a1a1a" stroke-width="1.4"/>
<path d="M348.20,544.00 L353.40,544.00 L350.80,550.20 Z" fill="#1a1a1a"/>
<text x="356.00" y="546.40" font-size="5.4" text-anchor="start" font-weight="normal" >R</text>
<text x="332.00" y="556.40" font-size="5.4" text-anchor="start" font-weight="normal" textLength="38.00" lengthAdjust="spacingAndGlyphs" >SUBOPTIMAL</text>
<text x="472.50" y="538.80" font-size="5.0" text-anchor="start" font-weight="normal" textLength="27.00" lengthAdjust="spacingAndGlyphs" >HEALTHY</text>
<text x="473.80" y="546.20" font-size="5.0" text-anchor="start" font-weight="normal" textLength="25.70" lengthAdjust="spacingAndGlyphs" >DONORS</text>
<rect x="0.65" y="0.65" width="518.6" height="631.2" fill="none" stroke="#000" stroke-width="1.3"/>
<rect x="518.5" y="0" width="1.5" height="633" fill="#000"/>
<rect x="0" y="631.2" width="520" height="1.8" fill="#000"/>
</svg>
</body></html>
